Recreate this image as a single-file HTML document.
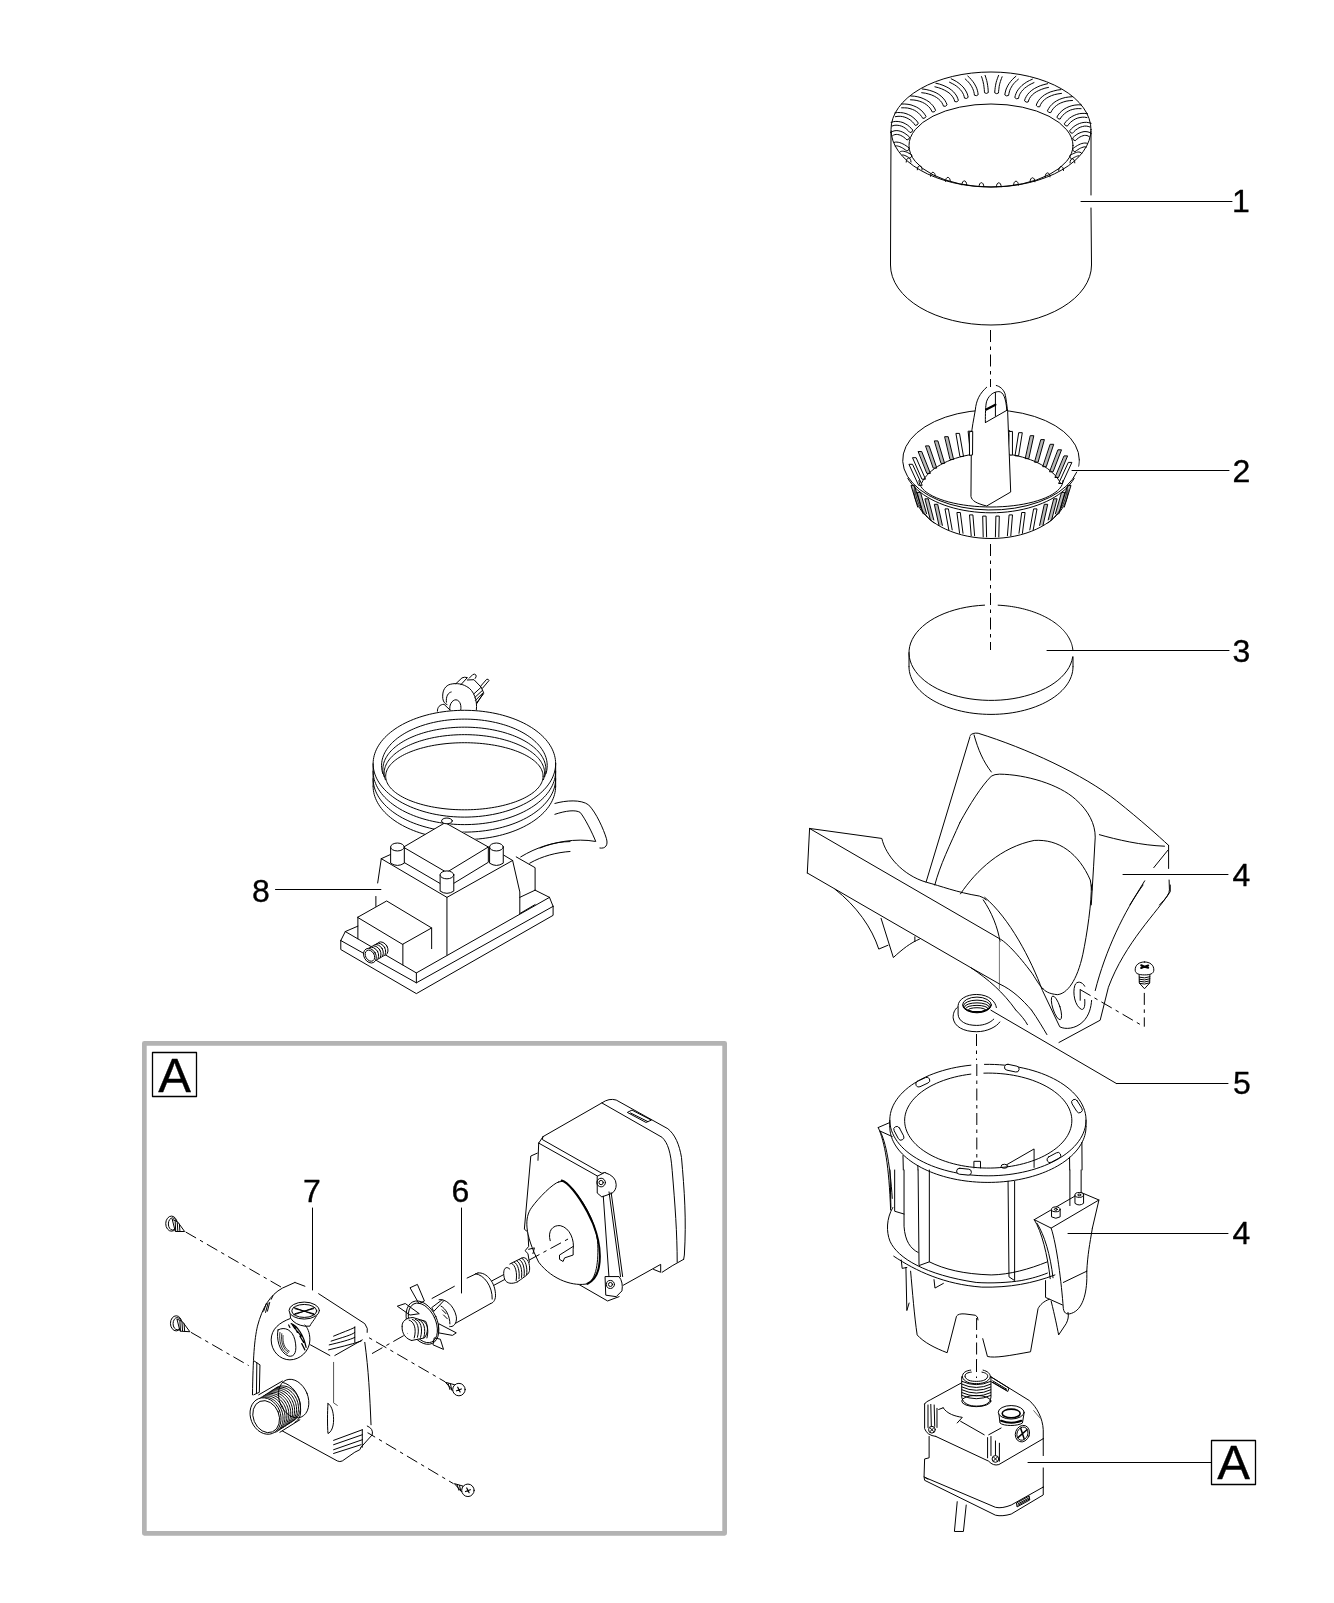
<!DOCTYPE html>
<html><head><meta charset="utf-8"><style>
html,body{margin:0;padding:0;background:#fff;}
svg{display:block;font-family:"Liberation Sans",sans-serif;filter:grayscale(100%);}
svg path,svg line,svg ellipse,svg polyline,svg polygon,svg circle,svg rect{vector-effect:non-scaling-stroke;}
</style></head><body>
<svg width="1334" height="1603" viewBox="0 0 1334 1603" fill="none" stroke="#000" stroke-width="1" stroke-linecap="round" stroke-linejoin="round">
<rect x="0" y="0" width="1334" height="1603" fill="#fff" stroke="none"/>
<rect x="144.35" y="1043.35" width="580.3" height="490" fill="none" stroke="#b3b3b3" stroke-width="4.7" class="ns"/>
<rect x="152.5" y="1052.5" width="44" height="44" fill="none" stroke="#000" stroke-width="1.3"/>
<rect x="1211.5" y="1440.5" width="44" height="44" fill="none" stroke="#000" stroke-width="1.3"/>
<text fill="#000" stroke="#000" stroke-width="0.35" x="1241" y="212" font-size="32" text-anchor="middle">1</text>
<text fill="#000" stroke="#000" stroke-width="0.35" x="1241.5" y="482" font-size="32" text-anchor="middle">2</text>
<text fill="#000" stroke="#000" stroke-width="0.35" x="1241.5" y="661.7" font-size="32" text-anchor="middle">3</text>
<text fill="#000" stroke="#000" stroke-width="0.35" x="1241.5" y="885.7" font-size="32" text-anchor="middle">4</text>
<text fill="#000" stroke="#000" stroke-width="0.35" x="1242" y="1094" font-size="32" text-anchor="middle">5</text>
<text fill="#000" stroke="#000" stroke-width="0.35" x="1241.5" y="1244" font-size="32" text-anchor="middle">4</text>
<text fill="#000" stroke="#000" stroke-width="0.35" x="261" y="902" font-size="32" text-anchor="middle">8</text>
<text fill="#000" stroke="#000" stroke-width="0.35" x="312" y="1202" font-size="32" text-anchor="middle">7</text>
<text fill="#000" stroke="#000" stroke-width="0.35" x="460.5" y="1202" font-size="32" text-anchor="middle">6</text>
<text fill="#000" stroke="#000" stroke-width="0.35" x="174.5" y="1092" font-size="49" text-anchor="middle">A</text>
<text fill="#000" stroke="#000" stroke-width="0.35" x="1233.5" y="1479" font-size="49" text-anchor="middle">A</text>
<line x1="1081" y1="201.5" x2="1232" y2="201.5"/>
<line x1="1072" y1="470.5" x2="1229" y2="470.5"/>
<line x1="1047" y1="650.5" x2="1229" y2="650.5"/>
<line x1="1123" y1="874.5" x2="1228" y2="874.5"/>
<line x1="990.9" y1="1010.2" x2="1116.4" y2="1083.5"/>
<line x1="1116.4" y1="1083.5" x2="1228" y2="1083.5"/>
<line x1="1068" y1="1233.5" x2="1228" y2="1233.5"/>
<line x1="1028" y1="1462.5" x2="1211" y2="1462.5"/>
<line x1="275.5" y1="889.5" x2="391" y2="889.5"/>
<line x1="312.5" y1="1208" x2="312.5" y2="1301"/>
<line x1="461.5" y1="1208" x2="461.5" y2="1293"/>
<ellipse cx="991" cy="129.5" rx="100" ry="57.5"/>
<ellipse cx="991" cy="145.5" rx="82" ry="41.5"/>
<path d="M1091,208 L1091.5,265 A100.5,60 0 0 1 890.5,265 L891,131"/>
<path d="M1091,131 L1091,195"/>
<path d="M1091.4,133.6 L1089.9,132.6 L1088.0,131.9 L1086.0,131.6 L1084.0,131.6 L1081.9,132.1 L1080.0,132.8 L1078.0,133.7 L1076.1,135.0 L1074.3,136.4 L1072.6,138.0 Q1072.8,140.4 1075.2,140.7 L1076.8,139.3 L1078.4,138.0 L1079.9,137.0 L1081.5,136.3 L1083.0,135.7 L1084.4,135.4 L1085.8,135.4 L1087.0,135.5 L1088.1,136.0 L1089.3,136.7"/>
<path d="M1087.3,143.4 L1086.2,143.1 L1084.8,143.0 L1083.4,143.2 L1081.9,143.5 L1080.4,144.0 L1078.9,144.7 L1077.4,145.5 L1075.8,146.5 L1074.2,147.6 L1072.6,148.7 Q1072.6,151.1 1074.9,151.8 L1076.4,150.6 L1077.9,149.7 L1079.2,148.8 L1080.6,148.1 L1081.8,147.6 L1083.0,147.2 L1084.0,146.9 L1084.9,146.8 L1085.6,146.9 L1086.3,147.1"/>
<path d="M1081.8,153.5 L1081.2,152.8 L1080.0,152.2 L1078.8,152.0 L1077.6,152.1 L1076.4,152.4 L1075.2,152.8 L1073.9,153.4 L1072.5,154.0 L1071.1,154.8 L1069.7,155.7 Q1069.4,158.1 1071.7,158.9 L1073.1,158.1 L1074.3,157.4 L1075.5,156.8 L1076.6,156.3 L1077.5,156.0 L1078.2,155.9 L1078.7,155.8 L1079.0,155.9 L1078.9,155.8 L1079.0,156.0"/>
<path d="M1070.0,162.9 C1070.0,157.4 1074.8,157.4 1074.8,162.9"/>
<path d="M1058.7,170.5 C1058.7,165.0 1063.5,165.0 1063.5,170.5"/>
<path d="M1045.2,176.9 C1045.2,171.4 1050.0,171.4 1050.0,176.9"/>
<path d="M1030.1,181.8 C1030.1,176.3 1034.9,176.3 1034.9,181.8"/>
<path d="M1013.6,185.2 C1013.6,179.7 1018.4,179.7 1018.4,185.2"/>
<path d="M996.4,186.8 C996.4,181.3 1001.2,181.3 1001.2,186.8"/>
<path d="M979.0,186.7 C979.0,181.2 983.8,181.2 983.8,186.7"/>
<path d="M961.9,184.9 C961.9,179.4 966.7,179.4 966.7,184.9"/>
<path d="M945.5,181.4 C945.5,175.9 950.3,175.9 950.3,181.4"/>
<path d="M930.5,176.3 C930.5,170.8 935.3,170.8 935.3,176.3"/>
<path d="M917.3,169.8 C917.3,164.3 922.1,164.3 922.1,169.8"/>
<path d="M906.2,162.1 C906.2,156.6 911.0,156.6 911.0,162.1"/>
<path d="M902.1,155.2 L902.3,155.0 L902.3,155.0 L902.6,155.0 L903.2,155.0 L904.0,155.2 L904.9,155.5 L906.0,156.0 L907.2,156.6 L908.5,157.4 L909.9,158.2 Q912.1,157.4 911.9,155.0 L910.4,154.1 L909.0,153.3 L907.6,152.6 L906.3,152.0 L905.1,151.6 L903.8,151.3 L902.6,151.2 L901.4,151.3 L900.2,151.8 L899.5,152.4"/>
<path d="M895.2,146.1 L895.9,145.9 L896.7,145.9 L897.6,146.0 L898.7,146.3 L899.9,146.7 L901.2,147.3 L902.5,148.0 L903.9,148.9 L905.4,149.9 L906.9,151.0 Q909.3,150.4 909.2,148.0 L907.6,146.8 L906.0,145.7 L904.4,144.7 L902.9,143.9 L901.3,143.2 L899.8,142.6 L898.3,142.3 L896.9,142.1 L895.4,142.1 L894.3,142.4"/>
<path d="M892.5,135.8 L893.7,135.0 L894.9,134.6 L896.2,134.4 L897.6,134.5 L899.1,134.8 L900.7,135.4 L902.2,136.2 L903.8,137.2 L905.4,138.5 L907.0,140.0 Q909.3,139.6 909.6,137.2 L907.9,135.6 L906.0,134.2 L904.1,132.9 L902.2,131.9 L900.2,131.2 L898.1,130.7 L896.1,130.6 L894.0,130.9 L892.1,131.6 L890.5,132.5"/>
<path d="M892.2,126.0 L894.1,125.4 L896.0,125.2 L897.9,125.3 L899.7,125.6 L901.6,126.2 L903.4,127.0 L905.2,128.1 L906.8,129.4 L908.4,130.9 L910.0,132.6 Q912.4,132.4 912.8,130.1 L911.1,128.2 L909.3,126.5 L907.3,124.9 L905.2,123.7 L903.0,122.6 L900.6,121.9 L898.2,121.5 L895.8,121.4 L893.4,121.7 L891.1,122.4"/>
<path d="M895.4,116.7 L898.0,116.3 L900.3,116.3 L902.6,116.6 L904.8,117.2 L906.9,118.0 L908.9,119.1 L910.7,120.3 L912.4,121.8 L913.9,123.5 L915.3,125.4 Q917.7,125.4 918.3,123.1 L916.8,121.0 L915.0,119.1 L913.0,117.4 L910.9,115.8 L908.5,114.6 L906.0,113.6 L903.3,112.9 L900.6,112.6 L897.7,112.5 L894.9,112.9"/>
<path d="M901.6,107.8 L904.6,107.8 L907.4,108.0 L910.0,108.6 L912.4,109.4 L914.7,110.4 L916.7,111.7 L918.5,113.1 L920.1,114.7 L921.5,116.4 L922.8,118.4 Q925.2,118.7 926.0,116.4 L924.6,114.2 L923.0,112.1 L921.0,110.2 L918.9,108.5 L916.5,107.1 L913.8,105.9 L911.0,104.9 L908.0,104.3 L904.8,104.0 L901.6,104.0"/>
<path d="M910.5,99.8 L913.9,100.0 L916.9,100.5 L919.8,101.3 L922.4,102.3 L924.7,103.5 L926.7,104.9 L928.5,106.5 L930.0,108.1 L931.2,110.0 L932.3,112.0 Q934.6,112.5 935.6,110.3 L934.5,108.0 L933.0,105.8 L931.2,103.8 L929.1,101.9 L926.6,100.3 L923.9,98.9 L921.0,97.7 L917.8,96.8 L914.3,96.2 L910.7,96.0"/>
<path d="M921.7,92.7 L925.4,93.2 L928.7,94.0 L931.7,95.0 L934.3,96.2 L936.7,97.6 L938.7,99.1 L940.3,100.7 L941.7,102.4 L942.7,104.2 L943.5,106.2 Q945.9,106.9 947.1,104.8 L946.1,102.5 L944.8,100.2 L943.1,98.1 L941.1,96.2 L938.8,94.4 L936.1,92.8 L933.1,91.5 L929.7,90.4 L926.1,89.5 L922.3,89.0"/>
<path d="M934.9,86.8 L938.4,87.7 L941.6,88.8 L944.4,90.1 L946.9,91.5 L949.0,92.9 L950.8,94.5 L952.2,96.2 L953.4,97.9 L954.2,99.6 L954.8,101.6 Q957.1,102.5 958.4,100.5 L957.7,98.3 L956.7,96.0 L955.2,93.9 L953.5,91.8 L951.4,90.0 L948.9,88.2 L946.1,86.7 L943.0,85.3 L939.5,84.1 L935.8,83.2"/>
<path d="M949.5,82.2 L952.3,83.6 L954.7,84.9 L956.8,86.4 L958.7,88.0 L960.3,89.6 L961.6,91.2 L962.6,92.8 L963.5,94.5 L964.1,96.3 L964.5,98.1 Q966.7,99.2 968.2,97.3 L967.7,95.2 L967.0,93.1 L965.9,91.0 L964.6,89.0 L963.1,87.0 L961.2,85.2 L959.1,83.4 L956.7,81.7 L954.0,80.2 L951.2,78.8"/>
<path d="M965.2,78.9 L966.9,80.5 L968.4,82.0 L969.7,83.6 L970.8,85.2 L971.8,86.8 L972.6,88.4 L973.3,90.1 L973.8,91.7 L974.2,93.4 L974.4,95.2 Q976.5,96.4 978.2,94.7 L977.9,92.7 L977.5,90.8 L976.9,88.8 L976.1,86.9 L975.1,85.0 L974.0,83.1 L972.7,81.3 L971.2,79.5 L969.6,77.7 L967.8,76.1"/>
<path d="M981.5,76.6 L982.1,78.2 L982.5,79.8 L983.0,81.4 L983.3,83.0 L983.7,84.6 L983.9,86.2 L984.1,87.9 L984.3,89.5 L984.4,91.1 L984.5,92.7 Q986.4,94.2 988.3,92.6 L988.2,90.9 L988.1,89.1 L987.9,87.4 L987.7,85.7 L987.4,84.0 L987.1,82.2 L986.7,80.5 L986.2,78.8 L985.7,77.1 L985.1,75.4"/>
<path d="M998.6,75.4 L997.9,77.1 L997.3,78.8 L996.7,80.5 L996.2,82.3 L995.8,84.0 L995.5,85.8 L995.2,87.5 L995.0,89.3 L994.8,91.0 L994.7,92.8 Q996.6,94.4 998.5,93.0 L998.6,91.3 L998.8,89.7 L999.0,88.1 L999.2,86.4 L999.5,84.8 L999.9,83.2 L1000.4,81.6 L1000.9,80.0 L1001.5,78.4 L1002.1,76.8"/>
<path d="M1015.9,76.3 L1014.0,77.9 L1012.2,79.7 L1010.7,81.4 L1009.3,83.3 L1008.1,85.1 L1007.1,87.1 L1006.2,89.0 L1005.6,91.0 L1005.1,93.0 L1004.8,94.9 Q1006.5,96.6 1008.6,95.4 L1008.9,93.7 L1009.3,92.0 L1009.8,90.3 L1010.5,88.7 L1011.4,87.1 L1012.4,85.4 L1013.6,83.8 L1015.0,82.3 L1016.6,80.7 L1018.4,79.2"/>
<path d="M1032.4,79.2 L1029.5,80.5 L1026.7,82.0 L1024.2,83.7 L1022.0,85.4 L1020.1,87.3 L1018.5,89.2 L1017.1,91.2 L1016.1,93.3 L1015.3,95.5 L1014.8,97.6 Q1016.3,99.5 1018.5,98.4 L1018.9,96.6 L1019.5,94.8 L1020.4,93.2 L1021.5,91.5 L1022.9,89.9 L1024.5,88.3 L1026.5,86.8 L1028.7,85.3 L1031.2,83.9 L1034.0,82.6"/>
<path d="M1047.6,83.7 L1043.9,84.6 L1040.3,85.7 L1037.2,87.1 L1034.3,88.6 L1031.8,90.3 L1029.6,92.2 L1027.8,94.2 L1026.4,96.3 L1025.2,98.6 L1024.5,100.8 Q1025.9,102.8 1028.1,102.0 L1028.8,100.0 L1029.6,98.3 L1030.8,96.5 L1032.3,94.9 L1034.1,93.3 L1036.3,91.8 L1038.8,90.5 L1041.7,89.3 L1044.9,88.2 L1048.5,87.4"/>
<path d="M1061.0,89.6 L1057.2,90.1 L1053.6,91.0 L1050.2,92.0 L1047.2,93.4 L1044.5,94.9 L1042.2,96.7 L1040.1,98.6 L1038.4,100.8 L1037.1,103.0 L1036.2,105.3 Q1037.3,107.4 1039.7,106.8 L1040.5,104.7 L1041.6,102.9 L1042.9,101.2 L1044.6,99.6 L1046.6,98.1 L1048.9,96.8 L1051.6,95.6 L1054.6,94.6 L1057.9,93.9 L1061.5,93.4"/>
<path d="M1072.3,96.7 L1068.8,97.0 L1065.3,97.5 L1062.1,98.4 L1059.2,99.5 L1056.5,100.9 L1054.1,102.5 L1051.9,104.4 L1050.1,106.4 L1048.6,108.6 L1047.4,110.9 Q1048.4,113.1 1050.8,112.6 L1051.8,110.6 L1053.1,108.8 L1054.6,107.1 L1056.4,105.6 L1058.4,104.2 L1060.7,103.0 L1063.3,102.0 L1066.1,101.2 L1069.2,100.7 L1072.5,100.5"/>
<path d="M1081.2,104.9 L1078.1,104.8 L1074.9,105.1 L1071.9,105.7 L1069.1,106.6 L1066.4,107.8 L1064.0,109.2 L1061.9,110.9 L1059.9,112.8 L1058.2,114.9 L1056.9,117.1 Q1057.7,119.3 1060.1,119.1 L1061.3,117.1 L1062.7,115.4 L1064.4,113.8 L1066.2,112.4 L1068.2,111.2 L1070.4,110.1 L1072.8,109.4 L1075.4,108.8 L1078.2,108.6 L1081.1,108.7"/>
<path d="M1087.6,113.8 L1084.9,113.4 L1082.0,113.4 L1079.3,113.7 L1076.7,114.4 L1074.2,115.4 L1071.8,116.6 L1069.6,118.1 L1067.7,119.8 L1065.9,121.7 L1064.3,123.8 Q1064.9,126.1 1067.3,126.1 L1068.8,124.2 L1070.3,122.5 L1072.0,121.1 L1073.8,119.9 L1075.7,118.8 L1077.8,118.0 L1080.0,117.5 L1082.2,117.2 L1084.6,117.2 L1087.0,117.6"/>
<path d="M1091.1,123.3 L1088.9,122.7 L1086.5,122.3 L1084.1,122.4 L1081.7,122.8 L1079.4,123.5 L1077.2,124.5 L1075.1,125.7 L1073.1,127.2 L1071.3,128.9 L1069.6,130.8 Q1070.0,133.2 1072.4,133.3 L1074.0,131.6 L1075.6,130.1 L1077.3,128.9 L1079.0,127.8 L1080.8,127.0 L1082.6,126.5 L1084.5,126.1 L1086.3,126.1 L1088.1,126.4 L1089.9,127.0"/>
<g transform="translate(390 1250) scale(0.127437)">
<path d="M330,380 L505,285 M605,220 L690,180"/>
<path d="M470,600 L790,420"/>
<path d="M690,180 C760,170 830,260 828,360 C826,400 805,418 790,420"/>
<path d="M670,186 C740,195 805,285 802,385"/>
<path d="M800,242 L940,168 M815,277 L955,202"/>
<path d="M940,150 C900,110 880,170 900,230 C915,265 960,270 1000,250" fill="#fff"/>
<path d="M940,110 L1040,60 C1080,55 1100,110 1095,160 C1090,190 1070,200 1000,250"/>
<path d="M955,105 C985,120 1000,180 990,240 M975,95 C1005,110 1020,170 1012,225 M995,85 C1025,100 1040,160 1032,215 M1015,75 C1045,90 1060,150 1052,205 M1035,65 C1065,80 1080,140 1072,195"/>
<path d="M385,390 C430,380 500,430 520,520 C530,580 490,610 470,600" fill="#fff"/>
<path d="M400,440 C440,460 470,520 470,580 M410,470 L440,500 M420,510 L450,540"/>
<path d="M160,295 L215,270 L270,400 L230,420 Z" fill="#fff"/>
<path d="M60,440 L120,420 L230,500 L160,510 Z" fill="#fff"/>
<path d="M330,450 L410,390 L420,400 L345,480 Z" fill="#fff"/>
<path d="M385,580 L520,650 L490,670 L380,650 Z" fill="#fff"/>
<path d="M340,745 L420,780 L395,700 L350,690 Z" fill="#fff"/>
<ellipse cx="255" cy="570" rx="115" ry="180" transform="rotate(-25 255 570)"/>
<ellipse cx="258" cy="572" rx="100" ry="165" transform="rotate(-25 258 572)"/>
<path d="M95,600 C90,560 130,530 180,530 L280,560 C300,600 300,650 270,690 L170,710" fill="#fff"/>
<path d="M150,550 C190,560 210,620 190,690 M175,545 C215,555 235,615 215,685 M200,545 C240,555 260,615 240,685 M225,548 C265,558 285,618 265,688 M250,552 C290,562 308,620 290,690"/>
<path d="M95,600 C90,660 130,700 170,710"/>
</g>

<g transform="translate(510 1090) scale(0.143513)">
<path d="M230,325 L640,90 Q690,55 740,70 L1100,270 C1150,310 1180,380 1195,470 C1215,700 1230,900 1215,1150 L1210,1180 L1130,1225 L1060,1270 L1050,1215 L790,1360 L760,1440 L680,1470 L480,1355 L130,1200 L125,1140 L105,1120 L130,1090 L125,990 L100,970 L145,460 L190,440 L200,370 Z" fill="#fff" stroke="none"/>
<path d="M230,325 L640,90 Q690,55 740,70 L1100,270 C1150,310 1180,380 1195,470 C1215,700 1230,900 1215,1150 L1210,1180"/>
<path d="M640,90 L1060,330 C1100,370 1120,430 1130,560 C1150,800 1165,1000 1165,1200"/>
<path d="M230,325 L225,345 L640,580 L665,575"/>
<path d="M200,370 L610,600"/><path d="M230,325 L200,370"/>
<path d="M200,370 L195,490"/>
<path d="M190,440 L145,460 L100,970 L125,990 L130,1090 L105,1120 L125,1140 L135,1200"/>
<path d="M480,1355 L680,1470 L760,1440"/>
<path d="M790,1360 L1050,1215 L1050,1270 L1000,1250 M1060,1270 L1130,1225 L1210,1180"/>
<path d="M820,155 L850,140 L985,210 L950,225 Z"/><path d="M840,160 L960,220"/>
<path d="M340,640 C300,650 200,750 150,820 C100,890 100,1000 200,1200 C300,1330 450,1370 540,1350 C600,1320 620,1200 610,1050 C590,900 500,750 400,650 Q370,625 340,640 Z" fill="#fff"/>
<path d="M360,630 C400,640 470,720 540,850 C610,980 640,1120 620,1230 C610,1290 580,1330 540,1350" stroke-width="2"/>
<path d="M280,1050 C260,980 300,940 350,945 C420,960 450,1050 440,1110 L440,1150 L380,1170 L370,1195 L345,1180 L345,1150 L440,1090"/>
<path d="M610,600 L660,575 Q740,600 740,660 Q740,700 710,720 L640,745 L610,720 Z" fill="#fff"/>
<circle cx="635" cy="645" r="30"/><circle cx="635" cy="645" r="15"/>
<path d="M650,740 L690,1310 M690,710 L770,1300 M705,715 L785,1300"/>
<path d="M665,1300 L760,1300 Q790,1340 780,1400 L740,1440 L670,1430 Z" fill="#fff"/>
<circle cx="700" cy="1355" r="28"/><circle cx="700" cy="1355" r="14"/>
<path d="M130,1110 L170,1100 L160,1140"/>
</g>

<g stroke-dasharray="12 4.5 3.5 4.5" stroke-linecap="butt">
<path d="M185.7,1232 L304.9,1300.8"/>
<path d="M354.8,1329.5 L445.1,1381.8"/>
<path d="M190.9,1332.3 L248.7,1365.6"/>
<path d="M364.8,1431 L453.5,1483.7"/>
<path d="M372,1353.6 L408,1333.2"/>
<path d="M528.9,1260.2 L570.3,1237.8"/>
</g>
<g transform="translate(150 1210) scale(0.104942)">
<ellipse cx="205" cy="130" rx="55" ry="72" fill="#fff"/><ellipse cx="215" cy="133" rx="40" ry="58"/>
<path d="M215,90 L265,115 L330,205 L245,205 Z" fill="#fff"/>
<path d="M240,110 L245,200 M260,120 L265,200 M280,135 L285,200"/>
<ellipse cx="250" cy="1080" rx="55" ry="72" fill="#fff"/><ellipse cx="260" cy="1083" rx="40" ry="58"/>
<path d="M260,1040 L310,1065 L380,1160 L290,1155 Z" fill="#fff"/>
<path d="M285,1060 L290,1150 M305,1070 L310,1150 M325,1085 L330,1155"/>
</g>
<g transform="translate(330 1320) scale(0.119940)">
<path d="M965,520 L1040,540 L1030,590 Z" fill="#fff"/><path d="M985,530 L1000,580 M1005,535 L1015,585"/>
<circle cx="1075" cy="580" r="52" fill="#fff"/><path d="M1065,560 L1085,600 M1055,590 L1095,575" stroke-width="1.2"/>
<path d="M1040,1365 L1110,1385 L1100,1430 Z" fill="#fff"/><path d="M1060,1375 L1075,1420 M1080,1380 L1090,1425"/>
<circle cx="1150" cy="1420" r="52" fill="#fff"/><path d="M1140,1400 L1160,1440 M1130,1430 L1170,1415" stroke-width="1.2"/>
</g>

<path d="M1076.68,472.10 L1072.49,479.26 L1066.45,485.98 L1058.69,492.11 L1049.39,497.51 L1038.77,502.05 L1027.06,505.64 L1014.52,508.19 L1001.46,509.65 L988.15,509.97 L974.91,509.16 L962.03,507.23 L949.82,504.23 L938.54,500.22 L928.45,495.29 L919.79,489.57 L912.75,483.16 L907.49,476.24 L904.12,468.94 L902.74,461.44 L903.36,453.91 L905.97,446.51 L910.52,439.42 L916.90,432.80 L924.97,426.80 L934.54,421.56 L945.39,417.19 L957.28,413.79 L969.94,411.44 L983.07,410.20 L996.39,410.09 L1009.58,411.12 L1022.36,413.26 L1034.41,416.46 L1045.48,420.65 L1055.32,425.74 L1063.68,431.61 L1070.40,438.12 L1075.31,445.13 L1078.30,452.48 L1079.30,460.00"/>
<path d="M1079.30,460.00 L1079.30,460.15 L1079.30,460.31 L1079.30,460.46 L1079.29,460.61 L1079.29,460.76 L1079.29,460.92 L1079.28,461.07 L1079.27,461.22 L1079.27,461.37 L1079.26,461.53 L1079.25,461.68 L1079.24,461.83 L1079.23,461.98 L1079.22,462.14 L1079.21,462.29 L1079.19,462.44 L1079.18,462.60 L1079.17,462.75 L1079.15,462.90 L1079.14,463.05 L1079.12,463.20 L1079.10,463.36 L1079.08,463.51 L1079.06,463.66 L1079.04,463.81 L1079.02,463.97 L1079.00,464.12 L1078.98,464.27 L1078.95,464.42 L1078.93,464.58 L1078.90,464.73 L1078.88,464.88 L1078.85,465.03 L1078.82,465.18 L1078.80,465.33 L1078.77,465.49 L1078.74,465.64 L1078.71,465.79 L1078.67,465.94 L1078.64,466.09"/>
<path d="M1074.22,478.25 L1072.36,481.21 L1070.17,484.09 L1067.68,486.89 L1064.88,489.59 L1061.79,492.19 L1058.42,494.67 L1054.78,497.03 L1050.90,499.25 L1046.77,501.33 L1042.43,503.25 L1037.88,505.02 L1033.15,506.62 L1028.26,508.04 L1023.21,509.29 L1018.04,510.35 L1012.76,511.23 L1007.40,511.91 L1001.97,512.41 L996.49,512.70 L991.00,512.80 L985.51,512.70 L980.03,512.41 L974.60,511.91 L969.24,511.23 L963.96,510.35 L958.79,509.29 L953.74,508.04 L948.85,506.62 L944.12,505.02 L939.57,503.25 L935.23,501.33 L931.10,499.25 L927.22,497.03 L923.58,494.67 L920.21,492.19 L917.12,489.59 L914.32,486.89 L911.83,484.09 L909.64,481.21 L907.78,478.25"/>
<path d="M914.5,487 C916,505 925,516 934,523"/>
<path d="M1068.00,490.00 L1067.76,493.81 L1067.05,497.59 L1065.87,501.32 L1064.23,504.99 L1062.14,508.56 L1059.61,512.02 L1056.65,515.34 L1053.29,518.51 L1049.55,521.50 L1045.45,524.29 L1041.01,526.88 L1036.26,529.24 L1031.23,531.35 L1025.96,533.21 L1020.47,534.81 L1014.79,536.13 L1008.98,537.16 L1003.05,537.90 L997.04,538.35 L991.00,538.50 L984.96,538.35 L978.95,537.90 L973.02,537.16 L967.21,536.13 L961.53,534.81 L956.04,533.21 L950.77,531.35 L945.74,529.24 L940.99,526.88 L936.55,524.29 L932.45,521.50 L928.71,518.51 L925.35,515.34 L922.39,512.02 L919.86,508.56 L917.77,504.99 L916.13,501.32 L914.95,497.59 L914.24,493.81 L914.00,490.00"/>
<path d="M1067.5,487 C1066,505 1057,516 1048,523"/>
<path d="M1063.00,480.50 L1062.78,482.58 L1062.11,484.65 L1061.01,486.69 L1059.48,488.69 L1057.52,490.64 L1055.15,492.53 L1052.39,494.35 L1049.25,496.08 L1045.75,497.71 L1041.91,499.24 L1037.76,500.65 L1033.32,501.94 L1028.62,503.09 L1023.69,504.11 L1018.55,504.98 L1013.25,505.70 L1007.81,506.27 L1002.26,506.67 L996.65,506.92 L991.00,507.00 L985.35,506.92 L979.74,506.67 L974.19,506.27 L968.75,505.70 L963.45,504.98 L958.31,504.11 L953.38,503.09 L948.68,501.94 L944.24,500.65 L940.09,499.24 L936.25,497.71 L932.75,496.08 L929.61,494.35 L926.85,492.53 L924.48,490.64 L922.52,488.69 L920.99,486.69 L919.89,484.65 L919.22,482.58 L919.00,480.50"/>
<path d="M921.79,482.70 L923.21,480.18 L924.92,477.72 L926.90,475.32 L929.15,473.01 L931.66,470.78 L934.42,468.65 L937.41,466.62 L940.62,464.71 L944.05,462.92 L947.67,461.26 L951.47,459.73 L955.44,458.35 L959.55,457.12 L963.80,456.04 L968.15,455.12 L972.61,454.36 L977.14,453.77 L981.73,453.34 L986.35,453.09 L991.00,453.00 L995.65,453.09 L1000.27,453.34 L1004.86,453.77 L1009.39,454.36 L1013.85,455.12 L1018.20,456.04 L1022.45,457.12 L1026.56,458.35 L1030.53,459.73 L1034.33,461.26 L1037.95,462.92 L1041.38,464.71 L1044.59,466.62 L1047.58,468.65 L1050.34,470.78 L1052.85,473.01 L1055.10,475.32 L1057.08,477.72 L1058.79,480.18 L1060.21,482.70"/>
<path d="M909.3,464.3 L912.5,464.3 L922.2,485.3 L919.0,485.3 Z" fill="none" fill-opacity="0.45"/>
<path d="M912.9,457.7 L916.1,457.7 L925.5,479.2 L922.3,479.2 Z" fill="none" fill-opacity="0.45"/>
<path d="M918.5,451.5 L921.7,451.5 L930.4,473.4 L927.2,473.4 Z" fill="#666" fill-opacity="0.45"/>
<path d="M925.9,445.9 L929.1,445.9 L936.8,468.1 L933.6,468.1 Z" fill="#666" fill-opacity="0.45"/>
<path d="M934.7,440.9 L937.9,440.9 L944.6,463.4 L941.4,463.4 Z" fill="#666" fill-opacity="0.45"/>
<path d="M945.0,436.7 L948.2,436.7 L953.6,459.5 L950.4,459.5 Z" fill="#666" fill-opacity="0.45"/>
<path d="M956.3,433.4 L959.5,433.4 L963.5,456.5 L960.3,456.5 Z" fill="none" fill-opacity="0.45"/>
<path d="M968.5,431.2 L971.7,431.2 L974.2,454.4 L971.0,454.4 Z" fill="none" fill-opacity="0.45"/>
<path d="M981.1,429.9 L984.3,429.9 L985.3,453.2 L982.1,453.2 Z" fill="none" fill-opacity="0.45"/>
<path d="M994.0,429.8 L997.2,429.8 L996.6,453.1 L993.4,453.1 Z" fill="none" fill-opacity="0.45"/>
<path d="M1006.7,430.7 L1009.9,430.7 L1007.8,453.9 L1004.6,453.9 Z" fill="none" fill-opacity="0.45"/>
<path d="M1019.1,432.7 L1022.3,432.7 L1018.6,455.8 L1015.4,455.8 Z" fill="none" fill-opacity="0.45"/>
<path d="M1030.6,435.7 L1033.8,435.7 L1028.8,458.6 L1025.6,458.6 Z" fill="#666" fill-opacity="0.45"/>
<path d="M1041.2,439.6 L1044.4,439.6 L1038.1,462.2 L1034.9,462.2 Z" fill="#666" fill-opacity="0.45"/>
<path d="M1050.5,444.3 L1053.7,444.3 L1046.3,466.7 L1043.1,466.7 Z" fill="#666" fill-opacity="0.45"/>
<path d="M1058.3,449.8 L1061.5,449.8 L1053.1,471.8 L1049.9,471.8 Z" fill="#666" fill-opacity="0.45"/>
<path d="M1064.4,455.9 L1067.6,455.9 L1058.5,477.5 L1055.3,477.5 Z" fill="#666" fill-opacity="0.45"/>
<path d="M1068.7,462.4 L1071.9,462.4 L1062.2,483.5 L1059.0,483.5 Z" fill="none" fill-opacity="0.45"/>
<path d="M1060.9,507.1 L1067.6,485.4 L1071.0,485.4 L1064.3,507.1" fill="#666" fill-opacity="0.45"/>
<path d="M1055.4,513.8 L1061.5,492.4 L1064.9,492.4 L1058.8,513.8" fill="#666" fill-opacity="0.45"/>
<path d="M1048.2,520.0 L1053.7,498.8 L1057.1,498.8 L1051.6,520.0" fill="#666" fill-opacity="0.45"/>
<path d="M1039.6,525.4 L1044.3,504.3 L1047.7,504.3 L1043.0,525.4" fill="#666" fill-opacity="0.45"/>
<path d="M1029.8,529.9 L1033.6,508.9 L1037.0,508.9 L1033.2,529.9" fill="none" fill-opacity="0.45"/>
<path d="M1019.0,533.3 L1021.7,512.5 L1025.1,512.5 L1022.4,533.3" fill="none" fill-opacity="0.45"/>
<path d="M1007.4,535.7 L1009.1,514.9 L1012.5,514.9 L1010.8,535.7" fill="none" fill-opacity="0.45"/>
<path d="M995.4,536.9 L995.9,516.1 L999.3,516.1 L998.8,536.9" fill="none" fill-opacity="0.45"/>
<path d="M983.2,536.9 L982.7,516.1 L986.1,516.1 L986.6,536.9" fill="none" fill-opacity="0.45"/>
<path d="M971.2,535.7 L969.5,514.9 L972.9,514.9 L974.6,535.7" fill="none" fill-opacity="0.45"/>
<path d="M959.6,533.3 L956.9,512.5 L960.3,512.5 L963.0,533.3" fill="none" fill-opacity="0.45"/>
<path d="M948.8,529.9 L945.0,508.9 L948.4,508.9 L952.2,529.9" fill="none" fill-opacity="0.45"/>
<path d="M939.0,525.4 L934.3,504.3 L937.7,504.3 L942.4,525.4" fill="#666" fill-opacity="0.45"/>
<path d="M930.4,520.0 L924.9,498.8 L928.3,498.8 L933.8,520.0" fill="#666" fill-opacity="0.45"/>
<path d="M923.2,513.8 L917.1,492.4 L920.5,492.4 L926.6,513.8" fill="#666" fill-opacity="0.45"/>
<path d="M917.7,507.1 L911.0,485.4 L914.4,485.4 L921.1,507.1" fill="#666" fill-opacity="0.45"/>
<g transform="translate(950 375) scale(0.087336)"><path d="M300,300 C320,220 380,170 460,150 C560,140 620,180 640,240 L660,420 L695,1340 L420,1500 C300,1470 250,1440 240,1390 L245,700 C250,600 270,520 290,400 Z" fill="#fff" stroke="none"/><path d="M420,140 C340,210 300,290 290,400 C270,520 250,600 245,700 L240,1390 C250,1440 300,1470 420,1500 L695,1340 L660,420 C650,330 640,260 630,215 C610,160 570,130 530,120"/><path d="M405,540 C405,450 405,350 420,300 C450,220 510,190 560,190 C610,195 640,260 650,400"/><path d="M405,545 L650,405"/><path d="M520,200 L520,470"/><path d="M415,395 L520,340" stroke-width="2.2"/><path d="M225,650 L260,645 L258,915 L228,920 Z" fill="#fff"/><path d="M680,648 L715,645 L715,915 L690,918" fill="#fff"/></g>
<path d="M1072.69,656.86 L1071.91,660.44 L1070.67,663.98 L1068.98,667.46 L1066.83,670.85 L1064.25,674.14 L1061.25,677.30 L1057.85,680.33 L1054.06,683.19 L1049.91,685.88 L1045.42,688.38 L1040.62,690.67 L1035.54,692.75 L1030.20,694.60 L1024.64,696.20 L1018.88,697.56 L1012.96,698.66 L1006.92,699.49 L1000.78,700.06 L994.59,700.35 L988.38,700.38 L982.18,700.12 L976.03,699.60 L969.97,698.81 L964.03,697.75 L958.25,696.43 L952.65,694.86 L947.27,693.05 L942.15,691.01 L937.30,688.75 L932.76,686.28 L928.56,683.62 L924.72,680.78 L921.25,677.78 L918.19,674.64 L915.54,671.37 L913.33,667.99 L911.56,664.53 L910.25,661.00 L909.40,657.42 L909.02,653.81 L909.11,650.20 L909.67,646.60 L910.70,643.03 L912.19,639.53 L914.13,636.09 L916.51,632.76 L919.32,629.53 L922.54,626.44 L926.16,623.50 L930.14,620.73 L934.48,618.14 L939.14,615.75 L944.09,613.57 L949.32,611.62 L954.79,609.90 L960.46,608.43 L966.31,607.21 L972.30,606.26 L978.40,605.57 L984.57,605.15"/>
<path d="M998.15,605.18 L1000.09,605.29 L1002.03,605.43 L1003.97,605.60 L1005.90,605.79 L1007.82,606.01 L1009.72,606.26 L1011.62,606.53 L1013.51,606.83 L1015.38,607.16 L1017.25,607.51 L1019.09,607.89 L1020.92,608.29 L1022.73,608.72 L1024.53,609.17 L1026.30,609.65 L1028.06,610.15 L1029.79,610.67 L1031.50,611.23 L1033.19,611.80 L1034.86,612.40 L1036.50,613.02 L1038.11,613.66 L1039.70,614.32 L1041.26,615.01 L1042.79,615.72 L1044.29,616.45 L1045.76,617.20 L1047.20,617.97 L1048.61,618.76 L1049.99,619.56 L1051.33,620.39 L1052.64,621.24 L1053.91,622.10 L1055.14,622.98 L1056.34,623.88 L1057.51,624.80 L1058.63,625.73 L1059.72,626.67 L1060.77,627.64 L1061.77,628.61 L1062.74,629.60 L1063.67,630.60 L1064.55,631.62 L1065.40,632.64 L1066.20,633.68 L1066.96,634.73 L1067.67,635.79 L1068.34,636.86 L1068.97,637.93 L1069.56,639.02 L1070.09,640.11 L1070.59,641.21 L1071.04,642.32 L1071.44,643.44 L1071.80,644.55 L1072.11,645.68 L1072.37,646.80 L1072.59,647.93 L1072.76,649.07 L1072.89,650.20"/>
<path d="M1073.00,666.70 L1072.89,669.20 L1072.55,671.69 L1071.99,674.16 L1071.21,676.62 L1070.21,679.05 L1068.99,681.44 L1067.55,683.79 L1065.91,686.10 L1064.06,688.36 L1062.01,690.55 L1059.77,692.68 L1057.34,694.74 L1054.73,696.72 L1051.94,698.62 L1048.98,700.43 L1045.87,702.15 L1042.60,703.77 L1039.20,705.29 L1035.66,706.70 L1032.00,708.01 L1028.23,709.20 L1024.35,710.28 L1020.39,711.23 L1016.34,712.07 L1012.22,712.77 L1008.05,713.36 L1003.83,713.81 L999.57,714.14 L995.29,714.33 L991.00,714.40 L986.71,714.33 L982.43,714.14 L978.17,713.81 L973.95,713.36 L969.78,712.77 L965.66,712.07 L961.61,711.23 L957.65,710.28 L953.77,709.20 L950.00,708.01 L946.34,706.70 L942.80,705.29 L939.40,703.77 L936.13,702.15 L933.02,700.43 L930.06,698.62 L927.27,696.72 L924.66,694.74 L922.23,692.68 L919.99,690.55 L917.94,688.36 L916.09,686.10 L914.45,683.79 L913.01,681.44 L911.79,679.05 L910.79,676.62 L910.01,674.16 L909.45,671.69 L909.11,669.20 L909.00,666.70"/>
<path d="M909,652.7 L909,666.7"/><path d="M1073,657 L1073,666.7"/>
<g transform="translate(795 820) scale(0.153681)">
<path d="M95,55 L565,120 C590,230 700,360 855,405 C950,430 1050,470 1200,495 Q1225,502 1245,520"/>
<path d="M95,55 L80,345"/>
<path d="M260,450 C400,560 500,700 545,840 L605,815"/>
<path d="M560,640 L640,895 C700,840 750,800 810,775"/>
<path d="M780,760 L780,790"/>
<path d="M1225,520 C1280,600 1320,700 1334,790"/>
</g>
<path d="M969.9,737 L926.1,882"/>
<path d="M960,822.3 C950,845 940,865 934.8,885"/>
<g transform="translate(960 725) scale(0.164908)">
<path d="M60,65 Q75,45 110,50 C400,140 750,300 950,460 C1100,580 1200,670 1265,730"/>
<path d="M85,60 C110,150 140,220 190,285"/>
<path d="M0,590 C60,480 130,370 190,310 Q210,298 240,298 C400,300 600,360 700,450 C780,520 820,600 820,680 L810,860 L796,1091"/>
<path d="M3,1024 C100,880 250,740 450,700 C600,690 720,780 790,940 L800,1000"/>
<path d="M845,665 C950,695 1100,730 1240,735"/>
<path d="M1265,730 L1265,870"/>
<path d="M1268,940 L1270,1000 Q1272,1030 1210,1091"/>
<path d="M1260,760 L1175,865"/>
<path d="M1120,945 L1030,1091"/>
</g>
<path d="M809.6,828.5 L999.2,938.5 C1006,941.9 1017.7,954.1 1032.3,973.6 C1037.2,981.4 1040.1,986.2 1043.1,989.2"/>
<path d="M999.4,941.5 L999.4,988.8" stroke="#777"/>
<path d="M807.3,873 L970.9,967.7 L999.2,983.8 C1012.8,990.1 1022.6,999.9 1031.4,1010"/>
<path d="M970.9,967.7 C988.5,979.4 1003.1,992.1 1015.8,1010"/>
<g transform="translate(960 885) scale(0.164908)">
<path d="M796,0 C800,100 770,300 745,420 C710,580 650,660 590,665 C540,660 515,645 500,625"/>
<path d="M150,75 C300,200 430,450 500,640 L605,860 C640,878 700,872 745,830 C785,790 795,740 798,700"/>
<path d="M1110,0 C1000,150 880,400 820,640"/>
<path d="M1275,0 L1275,40 C1200,160 1000,350 900,620 L850,820 L600,955"/>
<ellipse cx="585" cy="745" rx="22" ry="75" transform="rotate(-18 585 745)"/>


<path d="M338,758 C370,790 395,820 409,847"/>
<path d="M433,758 C470,810 505,870 527,907"/>
</g>

<g transform="translate(940 990) scale(0.052466)">
<path d="M1075,335 C1060,230 950,90 700,85 C500,85 350,180 345,300 L345,460 C350,600 500,675 700,675 C850,675 960,620 1025,555"/>
<path d="M335,325 C270,380 250,450 250,530 C270,700 450,795 700,795 C900,795 1080,700 1140,610"/>
<ellipse cx="705" cy="285" rx="275" ry="150"/>
<ellipse cx="705" cy="305" rx="258" ry="112"/>
<ellipse cx="705" cy="330" rx="238" ry="85"/>
<ellipse cx="705" cy="355" rx="212" ry="62"/>
<ellipse cx="705" cy="380" rx="165" ry="42"/>
</g>
<g transform="translate(1060 950) scale(0.082440)">
<path d="M1025,145 C1090,145 1140,180 1138,245 C1135,290 1090,302 1025,302 C960,302 915,290 912,245 C910,180 960,145 1025,145 Z" fill="#fff"/>
<path d="M985,185 Q1025,205 1070,215 M985,218 Q1025,200 1070,188" stroke-width="2"/>
<path d="M960,302 L962,400 L1025,470 L1088,400 L1090,302"/>
<path d="M962,330 Q1025,350 1090,325 M962,355 Q1025,375 1090,350 M962,380 Q1025,400 1088,375 M965,405 Q1025,425 1085,400"/>
<path d="M245,480 L245,610"/>
<path d="M300,440 C270,380 200,370 180,430 C150,520 180,680 260,720 C300,730 305,660 300,600"/>
</g>
<g stroke-dasharray="12 4.5 3.5 4.5" stroke-linecap="butt">
<path d="M976.5,1034 L976.5,1060"/>
<path d="M1144.3,992.9 L1144.3,1026.7"/>
<path d="M1080.2,989.6 L1140.4,1024.6"/>
</g>

<g transform="translate(870 1050) scale(0.164908)">
<path d="M694.2,87.2 L724.7,87.0 L755.1,87.8 L785.5,89.4 L815.6,91.9 L845.5,95.2 L875.0,99.5 L904.1,104.5 L932.7,110.4 L960.8,117.2 L988.2,124.7 L1014.9,133.1 L1040.8,142.2 L1065.9,152.0 L1090.0,162.6 L1113.1,173.8 L1135.2,185.7 L1156.2,198.2 L1176.1,211.4 L1194.7,225.1 L1212.1,239.3 L1228.2,254.0 L1242.9,269.1 L1256.3,284.7 L1268.2,300.6 L1278.7,316.8 L1287.7,333.3 L1295.2,350.1 L1301.2,367.1 L1305.6,384.2 L1308.6,401.4 L1309.9,418.7 L1309.7,436.0 L1307.9,453.3 L1304.6,470.5 L1299.7,487.6 L1293.3,504.5 L1285.4,521.2 L1276.0,537.6 L1265.1,553.8 L1252.8,569.6 L1239.0,585.1 L1223.9,600.1 L1207.5,614.7 L1189.8,628.7 L1170.8,642.3 L1150.6,655.2 L1129.3,667.6 L1106.9,679.3 L1083.5,690.4 L1059.1,700.7 L1033.8,710.4 L1007.7,719.3 L980.8,727.4 L953.2,734.7 L925.0,741.2 L896.2,746.9 L867.0,751.8 L837.4,755.8 L807.4,758.9 L777.2,761.1 L746.8,762.5 L716.4,763.0 L685.9,762.6 L655.6,761.3 L625.3,759.1 L595.4,756.1 L565.7,752.2 L536.4,747.4 L507.6,741.8 L479.3,735.4 L451.7,728.1 L424.7,720.0 L398.5,711.2 L373.2,701.6 L348.7,691.3 L325.2,680.3 L302.7,668.7 L281.3,656.4 L261.0,643.5 L241.9,630.0 L224.1,616.0 L207.5,601.4 L192.3,586.5 L178.4,571.0 L166.0,555.3 L154.9,539.1 L145.4,522.7 L137.3,506.0 L130.8,489.1 L125.8,472.0 L122.3,454.9 L120.4,437.6 L120.1,420.3 L121.3,403.0 L124.0,385.8 L128.3,368.6 L134.2,351.7 L141.5,334.9 L150.4,318.3 L160.8,302.0 L172.6,286.1 L185.8,270.5 L200.4,255.3 L216.4,240.6 L233.6,226.3 L252.2,212.6 L271.9,199.4 L292.8,186.8 L314.8,174.9 L337.9,163.6 L361.9,152.9 L386.9,143.0 L412.7,133.9 L439.3,125.5 L466.7,117.8 L494.7,111.0 L523.3,105.0 L552.3,99.9 L581.8,95.6 L611.7,92.1"/>
<path d="M690.5,140.4 L716.3,140.0 L742.2,140.4 L768.0,141.5 L793.7,143.3 L819.2,145.9 L844.4,149.2 L869.2,153.3 L893.7,158.1 L917.7,163.5 L941.2,169.7 L964.2,176.5 L986.4,184.0 L1008.0,192.2 L1028.8,200.9 L1048.8,210.2 L1067.9,220.1 L1086.1,230.6 L1103.4,241.5 L1119.6,253.0 L1134.8,264.9 L1148.9,277.2 L1161.9,289.9 L1173.8,303.0 L1184.4,316.4 L1193.8,330.1 L1202.0,344.0 L1208.9,358.2 L1214.5,372.6 L1218.8,387.0 L1221.9,401.6 L1223.6,416.3 L1224.0,431.0 L1223.0,445.7 L1220.8,460.4 L1217.2,474.9 L1212.4,489.4 L1206.2,503.6 L1198.8,517.7 L1190.1,531.6 L1180.2,545.1 L1169.0,558.4 L1156.7,571.3 L1143.3,583.9 L1128.7,596.1 L1113.1,607.8 L1096.4,619.0 L1078.8,629.8 L1060.2,640.0 L1040.7,649.7 L1020.4,658.8 L999.2,667.3 L977.4,675.1 L954.8,682.3 L931.7,688.9 L908.0,694.8 L883.7,700.0 L859.1,704.5 L834.1,708.2 L808.7,711.2 L783.2,713.5 L757.4,715.1 L731.6,715.9 L705.7,715.9 L679.9,715.2 L654.1,713.8 L628.5,711.6 L603.2,708.6 L578.1,705.0 L553.4,700.6 L529.1,695.5 L505.3,689.7 L482.1,683.2 L459.5,676.1 L437.5,668.3 L416.3,659.9 L395.9,650.9 L376.3,641.3 L357.6,631.1 L339.8,620.4 L323.0,609.2 L307.2,597.6 L292.5,585.5 L278.9,573.0 L266.5,560.1 L255.2,546.9 L245.1,533.3 L236.3,519.5 L228.7,505.4 L222.4,491.2 L217.3,476.8 L213.6,462.2 L211.2,447.6 L210.1,432.9 L210.3,418.2 L211.8,403.5 L214.7,388.9 L218.9,374.4 L224.3,360.0 L231.1,345.8 L239.1,331.9 L248.3,318.1 L258.8,304.7 L270.5,291.6 L283.3,278.8 L297.3,266.4 L312.4,254.5 L328.5,243.0 L345.6,232.0 L363.7,221.4 L382.7,211.5 L402.6,202.1 L423.3,193.2 L444.8,185.0 L467.0,177.5 L489.8,170.5 L513.2,164.3 L537.2,158.7 L561.6,153.9 L586.4,149.7 L611.6,146.3"/>
<path d="M1310.0,465.0 L1309.5,478.3 L1308.2,491.5 L1305.9,504.7 L1302.7,517.9 L1298.6,530.9 L1293.6,543.9 L1287.7,556.7 L1280.9,569.4 L1273.2,582.0 L1264.7,594.3 L1255.3,606.5 L1245.1,618.4 L1234.1,630.2 L1222.3,641.6 L1209.7,652.8 L1196.4,663.7 L1182.3,674.3 L1167.4,684.5 L1151.9,694.4 L1135.7,704.0 L1118.9,713.2 L1101.4,722.0 L1083.4,730.4 L1064.7,738.4 L1045.6,746.0 L1025.9,753.2 L1005.7,759.9 L985.1,766.2 L964.1,772.0 L942.7,777.3 L920.9,782.1 L898.9,786.5 L876.5,790.3 L853.9,793.7 L831.1,796.5 L808.1,798.8 L784.9,800.7 L761.7,802.0 L738.4,802.7 L715.0,803.0 L691.6,802.7 L668.3,802.0 L645.1,800.7 L621.9,798.8 L598.9,796.5 L576.1,793.7 L553.5,790.3 L531.1,786.5 L509.1,782.1 L487.3,777.3 L465.9,772.0 L444.9,766.2 L424.3,759.9 L404.1,753.2 L384.4,746.0 L365.3,738.4 L346.6,730.4 L328.6,722.0 L311.1,713.2 L294.3,704.0 L278.1,694.4 L262.6,684.5 L247.7,674.3 L233.6,663.7 L220.3,652.8 L207.7,641.6 L195.9,630.2 L184.9,618.4 L174.7,606.5 L165.3,594.3 L156.8,582.0 L149.1,569.4 L142.3,556.7 L136.4,543.9 L131.4,530.9 L127.3,517.9 L124.1,504.7 L121.8,491.5 L120.5,478.3 L120.0,465.0"/>
<path d="M120,425 L120,465"/><path d="M1310,425 L1310,465"/>
<rect x="275" y="177" width="90" height="36" rx="18" transform="rotate(-25 320 195)" fill="#fff"/>
<rect x="815" y="92" width="90" height="36" rx="18" transform="rotate(12 860 110)" fill="#fff"/>
<rect x="1210" y="322" width="90" height="36" rx="18" transform="rotate(58 1255 340)" fill="#fff"/>
<rect x="130" y="487" width="90" height="36" rx="18" transform="rotate(62 175 505)" fill="#fff"/>
<rect x="525" y="720" width="90" height="36" rx="18" transform="rotate(6 570 738)" fill="#fff"/>
<rect x="1070" y="634" width="90" height="36" rx="18" transform="rotate(-28 1115 652)" fill="#fff"/>
<path d="M200,640 L202,727"/>
<path d="M290,700 L291,727"/>
<path d="M1210,650 L1211,727"/>
<path d="M1285,560 L1286,727"/>
<path d="M50,470 L120,440"/><path d="M50,470 C90,560 115,700 125,970"/><path d="M62,492 C98,565 122,700 135,900"/><path d="M62,492 L135,525"/>
<path d="M630,715 L630,675 L670,675 L670,715"/><path d="M830,695 L995,600 L995,712"/><ellipse cx="815" cy="705" rx="20" ry="12"/>
</g>
<g transform="translate(860 1170) scale(0.187406)">
<path d="M160,0 L165,200"/><path d="M185,0 L185,220 L235,235"/><path d="M235,0 L235,300 C240,380 270,420 310,440"/>
<path d="M310,0 L315,510 L370,490 L370,0"/>
<path d="M790,60 L795,570 L825,590 L825,60"/>
<path d="M175,200 C140,260 140,330 160,380 C200,470 350,560 620,600 C700,606 800,600 860,590 C920,578 960,566 1000,550"/>
<path d="M180,460 C300,540 450,610 650,625 C800,628 920,605 1040,560"/>
<path d="M370,490 C450,530 550,555 700,560 C800,558 900,530 1000,490"/>
<path d="M220,480 L225,525 L250,520"/><path d="M245,520 L250,750 L262,710"/><path d="M395,585 L400,630 L445,605"/>
<path d="M270,540 C280,650 290,780 305,880 C340,920 400,950 465,975 L515,780 Q525,765 560,768 L615,775 Q630,780 630,800"/>
<path d="M655,900 L680,995 C720,1005 800,990 910,970 L950,740 C960,720 980,700 1010,690"/>
<path d="M930,265 L1180,120 L1275,160 L1240,310"/><path d="M930,265 C970,330 1000,450 1015,580"/><path d="M945,285 C985,350 1015,450 1030,575"/><path d="M930,265 L1020,310 L1275,160"/>
<path d="M1020,310 C1050,400 1075,600 1085,740 C1090,770 1110,775 1140,760 C1190,735 1215,650 1210,540"/><path d="M1085,600 L1210,540"/><path d="M1240,310 C1225,400 1215,450 1210,540"/>
<path d="M1180,0 L1180,120"/><path d="M1120,0 L1120,190"/>
<path d="M1022,212 L1022,250 Q1045,265 1068,250 L1068,212"/><ellipse cx="1045" cy="210" rx="23" ry="13" fill="#fff"/><ellipse cx="1045" cy="210" rx="8" ry="5"/>
<path d="M1147,135 L1147,178 Q1170,195 1193,178 L1193,135"/><ellipse cx="1170" cy="133" rx="23" ry="13" fill="#fff"/><ellipse cx="1170" cy="133" rx="8" ry="5"/>
<path d="M990,590 L990,680 L1080,720"/><path d="M1020,700 C1040,780 1050,830 1060,880 L1100,820 C1110,800 1115,780 1110,760"/>
</g>
<g stroke-dasharray="12 4.5 3.5 4.5" stroke-linecap="butt"><path d="M976.8,1064 L976.8,1160"/><path d="M976.6,1318 L976.6,1360"/></g>
<g transform="translate(910 1360) scale(0.112444)">
<path d="M130,390 Q140,370 180,355 L455,205"/>
<path d="M720,150 L1060,360 C1130,420 1180,520 1185,620 L1185,700"/>
<path d="M130,390 L130,610 Q150,670 230,680"/>
<path d="M230,680 L700,900 Q740,945 790,930 L1185,700"/>
<path d="M1185,700 L1185,850"/><path d="M1185,960 L1185,1130"/>
<path d="M170,680 L170,870 L130,880 L125,1040 L160,1060"/>
<path d="M135,1045 L760,1310 C800,1320 850,1310 900,1290 L1185,1130"/>
<path d="M125,1040 L130,1070 L760,1380 C800,1390 850,1385 900,1370 L1185,1200 L1185,1130"/>
<path d="M420,1260 L395,1525 L475,1525 L500,1290"/>
<path d="M950,1270 L1060,1210 L1065,1245 L955,1305 Z"/>
<path d="M960,1280 L1055,1228 M960,1292 L1058,1238"/>
<path d="M460,150 L460,330 C470,390 530,410 590,410 C660,410 715,390 720,330 L720,150"/>
<path d="M465,150 C465,110 500,95 540,90 M650,90 C690,100 715,120 715,150"/>
<path d="M465,150 C480,200 540,210 590,210 C640,210 700,200 715,150"/>
<path d="M490,150 C480,120 520,110 545,108 M640,108 C680,115 695,130 690,150 C680,180 640,190 590,190 C540,190 500,180 490,150"/>
<path d="M462,190 Q590,250 718,190 M462,215 Q590,275 718,215 M462,240 Q590,300 718,240 M462,265 Q590,325 718,265 M462,290 Q590,350 718,290 M462,315 Q590,375 718,315"/>
<ellipse cx="590" cy="365" rx="130" ry="50"/>
<path d="M720,150 L880,250 L870,280 L725,195"/>
<path d="M735,185 L860,260 M740,200 L860,270"/>
<path d="M160,400 L160,600 M185,395 L190,600 M215,400 L220,590 M240,430 L240,600"/>
<circle cx="195" cy="620" r="30" fill="#fff"/><path d="M180,605 L210,635 M210,605 L180,635"/>
<path d="M295,425 C330,480 400,500 465,510 L420,560"/><path d="M295,425 L255,440"/>
<path d="M450,545 L660,665"/>
<path d="M690,690 L690,870 M720,680 L720,850 M760,720 L760,860 M795,740 L795,900"/>
<circle cx="760" cy="880" r="30" fill="#fff"/><path d="M745,865 L775,895 M775,865 L745,895"/>
<path d="M790,470 L800,560 C830,590 960,590 1000,560 L1015,470"/>
<ellipse cx="900" cy="465" rx="115" ry="60" fill="#fff"/>
<ellipse cx="900" cy="475" rx="80" ry="38" stroke-width="1.6"/>
<path d="M810,540 Q900,575 990,540" stroke-width="2"/>
<ellipse cx="1000" cy="655" rx="62" ry="75" transform="rotate(20 1000 655)" fill="#fff"/>
<ellipse cx="1000" cy="655" rx="48" ry="60" transform="rotate(20 1000 655)"/>
<path d="M960,690 L1040,620 M985,610 L1015,700" stroke-width="1.5"/>
<path d="M700,665 L810,605"/>
<path d="M1100,450 L1160,520" stroke="#666"/>
</g>
<g stroke-dasharray="12 4.5 3.5 4.5" stroke-linecap="butt"><path d="M976.5,1360 L976.5,1378"/></g>

<g transform="translate(360 670) scale(0.187406)">
<path d="M1044.0,500.0 L1043.6,511.2 L1042.5,522.4 L1040.6,533.5 L1038.0,544.6 L1034.6,555.6 L1030.5,566.5 L1025.7,577.4 L1020.2,588.1 L1013.9,598.6 L1006.9,609.1 L999.3,619.3 L990.9,629.4 L981.9,639.3 L972.2,648.9 L961.9,658.3 L951.0,667.5 L939.4,676.4 L927.3,685.1 L914.6,693.5 L901.4,701.5 L887.6,709.3 L873.3,716.7 L858.5,723.8 L843.3,730.6 L827.6,737.0 L811.5,743.0 L795.0,748.7 L778.1,753.9 L760.9,758.8 L743.4,763.3 L725.6,767.4 L707.5,771.1 L689.2,774.3 L670.7,777.1 L652.0,779.5 L633.2,781.5 L614.2,783.0 L595.2,784.1 L576.1,784.8 L557.0,785.0 L537.9,784.8 L518.8,784.1 L499.8,783.0 L480.8,781.5 L462.0,779.5 L443.3,777.1 L424.8,774.3 L406.5,771.1 L388.4,767.4 L370.6,763.3 L353.1,758.8 L335.9,753.9 L319.0,748.7 L302.5,743.0 L286.4,737.0 L270.7,730.6 L255.5,723.8 L240.7,716.7 L226.4,709.3 L212.6,701.5 L199.4,693.5 L186.7,685.1 L174.6,676.4 L163.0,667.5 L152.1,658.3 L141.8,648.9 L132.1,639.3 L123.1,629.4 L114.7,619.3 L107.1,609.1 L100.1,598.6 L93.8,588.1 L88.3,577.4 L83.5,566.5 L79.4,555.6 L76.0,544.6 L73.4,533.5 L71.5,522.4 L70.4,511.2 L70.0,500.0 L70.4,488.8 L71.5,477.6 L73.4,466.5 L76.0,455.4 L79.4,444.4 L83.5,433.5 L88.3,422.6 L93.8,411.9 L100.1,401.4 L107.1,390.9 L114.7,380.7 L123.1,370.6 L132.1,360.7 L141.8,351.1 L152.1,341.7 L163.0,332.5 L174.6,323.6 L186.7,314.9 L199.4,306.5 L212.6,298.5 L226.4,290.7 L240.7,283.3 L255.5,276.2 L270.7,269.4 L286.4,263.0 L302.5,257.0 L319.0,251.3 L335.9,246.1 L353.1,241.2 L370.6,236.7 L388.4,232.6 L406.5,228.9 L424.8,225.7 L443.3,222.9 L462.0,220.5 L480.8,218.5 L499.8,217.0 L518.8,215.9 L537.9,215.2 L557.0,215.0 L576.1,215.2 L595.2,215.9 L614.2,217.0 L633.2,218.5 L652.0,220.5 L670.7,222.9 L689.2,225.7 L707.5,228.9 L725.6,232.6 L743.4,236.7 L760.9,241.2 L778.1,246.1 L795.0,251.3 L811.5,257.0 L827.6,263.0 L843.3,269.4 L858.5,276.2 L873.3,283.3 L887.6,290.7 L901.4,298.5 L914.6,306.5 L927.3,314.9 L939.4,323.6 L951.0,332.5 L961.9,341.7 L972.2,351.1 L981.9,360.7 L990.9,370.6 L999.3,380.7 L1006.9,390.9 L1013.9,401.4 L1020.2,411.9 L1025.7,422.6 L1030.5,433.5 L1034.6,444.4 L1038.0,455.4 L1040.6,466.5 L1042.5,477.6 L1043.6,488.8 L1044.0,500.0"/>
<path d="M1044.0,540.0 L1043.6,551.2 L1042.5,562.4 L1040.6,573.5 L1038.0,584.6 L1034.6,595.6 L1030.5,606.5 L1025.7,617.4 L1020.2,628.1 L1013.9,638.6 L1006.9,649.1 L999.3,659.3 L990.9,669.4 L981.9,679.3 L972.2,688.9 L961.9,698.3 L951.0,707.5 L939.4,716.4 L927.3,725.1 L914.6,733.5 L901.4,741.5 L887.6,749.3 L873.3,756.7 L858.5,763.8 L843.3,770.6 L827.6,777.0 L811.5,783.0 L795.0,788.7 L778.1,793.9 L760.9,798.8 L743.4,803.3 L725.6,807.4 L707.5,811.1 L689.2,814.3 L670.7,817.1 L652.0,819.5 L633.2,821.5 L614.2,823.0 L595.2,824.1 L576.1,824.8 L557.0,825.0 L537.9,824.8 L518.8,824.1 L499.8,823.0 L480.8,821.5 L462.0,819.5 L443.3,817.1 L424.8,814.3 L406.5,811.1 L388.4,807.4 L370.6,803.3 L353.1,798.8 L335.9,793.9 L319.0,788.7 L302.5,783.0 L286.4,777.0 L270.7,770.6 L255.5,763.8 L240.7,756.7 L226.4,749.3 L212.6,741.5 L199.4,733.5 L186.7,725.1 L174.6,716.4 L163.0,707.5 L152.1,698.3 L141.8,688.9 L132.1,679.3 L123.1,669.4 L114.7,659.3 L107.1,649.1 L100.1,638.6 L93.8,628.1 L88.3,617.4 L83.5,606.5 L79.4,595.6 L76.0,584.6 L73.4,573.5 L71.5,562.4 L70.4,551.2 L70.0,540.0"/>
<path d="M1044.0,580.0 L1043.6,591.2 L1042.5,602.4 L1040.6,613.5 L1038.0,624.6 L1034.6,635.6 L1030.5,646.5 L1025.7,657.4 L1020.2,668.1 L1013.9,678.6 L1006.9,689.1 L999.3,699.3 L990.9,709.4 L981.9,719.3 L972.2,728.9 L961.9,738.3 L951.0,747.5 L939.4,756.4 L927.3,765.1 L914.6,773.5 L901.4,781.5 L887.6,789.3 L873.3,796.7 L858.5,803.8 L843.3,810.6 L827.6,817.0 L811.5,823.0 L795.0,828.7 L778.1,833.9 L760.9,838.8 L743.4,843.3 L725.6,847.4 L707.5,851.1 L689.2,854.3 L670.7,857.1 L652.0,859.5 L633.2,861.5 L614.2,863.0 L595.2,864.1 L576.1,864.8 L557.0,865.0 L537.9,864.8 L518.8,864.1 L499.8,863.0 L480.8,861.5 L462.0,859.5 L443.3,857.1 L424.8,854.3 L406.5,851.1 L388.4,847.4 L370.6,843.3 L353.1,838.8 L335.9,833.9 L319.0,828.7 L302.5,823.0 L286.4,817.0 L270.7,810.6 L255.5,803.8 L240.7,796.7 L226.4,789.3 L212.6,781.5 L199.4,773.5 L186.7,765.1 L174.6,756.4 L163.0,747.5 L152.1,738.3 L141.8,728.9 L132.1,719.3 L123.1,709.4 L114.7,699.3 L107.1,689.1 L100.1,678.6 L93.8,668.1 L88.3,657.4 L83.5,646.5 L79.4,635.6 L76.0,624.6 L73.4,613.5 L71.5,602.4 L70.4,591.2 L70.0,580.0"/>
<path d="M1044.0,620.0 L1043.6,631.2 L1042.5,642.4 L1040.6,653.5 L1038.0,664.6 L1034.6,675.6 L1030.5,686.5 L1025.7,697.4 L1020.2,708.1 L1013.9,718.6 L1006.9,729.1 L999.3,739.3 L990.9,749.4 L981.9,759.3 L972.2,768.9 L961.9,778.3 L951.0,787.5 L939.4,796.4 L927.3,805.1 L914.6,813.5 L901.4,821.5 L887.6,829.3 L873.3,836.7 L858.5,843.8 L843.3,850.6 L827.6,857.0 L811.5,863.0 L795.0,868.7 L778.1,873.9 L760.9,878.8 L743.4,883.3 L725.6,887.4 L707.5,891.1 L689.2,894.3 L670.7,897.1 L652.0,899.5 L633.2,901.5 L614.2,903.0 L595.2,904.1 L576.1,904.8 L557.0,905.0 L537.9,904.8 L518.8,904.1 L499.8,903.0 L480.8,901.5 L462.0,899.5 L443.3,897.1 L424.8,894.3 L406.5,891.1 L388.4,887.4 L370.6,883.3 L353.1,878.8 L335.9,873.9 L319.0,868.7 L302.5,863.0 L286.4,857.0 L270.7,850.6 L255.5,843.8 L240.7,836.7 L226.4,829.3 L212.6,821.5 L199.4,813.5 L186.7,805.1 L174.6,796.4 L163.0,787.5 L152.1,778.3 L141.8,768.9 L132.1,759.3 L123.1,749.4 L114.7,739.3 L107.1,729.1 L100.1,718.6 L93.8,708.1 L88.3,697.4 L83.5,686.5 L79.4,675.6 L76.0,664.6 L73.4,653.5 L71.5,642.4 L70.4,631.2 L70.0,620.0"/>
<path d="M70,500 L70,620"/><path d="M1044,500 L1044,620"/>
<path d="M121.7,553.1 L119.3,544.5 L117.4,535.9 L116.1,527.3 L115.3,518.7 L115.0,510.0 L115.3,501.3 L116.1,492.7 L117.4,484.1 L119.3,475.5 L121.7,466.9 L124.7,458.4 L128.1,450.0 L132.1,441.6 L136.6,433.4 L141.7,425.2 L147.2,417.1 L153.2,409.1 L159.7,401.3 L166.7,393.6 L174.2,386.0 L182.2,378.6 L190.6,371.3 L199.4,364.2 L208.7,357.3 L218.4,350.6 L228.5,344.1 L239.1,337.7 L250.0,331.6 L261.2,325.7 L272.9,320.0 L284.9,314.6 L297.2,309.4 L309.8,304.4 L322.8,299.7 L336.0,295.2 L349.5,291.0 L363.2,287.1 L377.2,283.4 L391.4,280.1 L405.8,277.0 L420.4,274.1 L435.2,271.6 L450.1,269.4 L465.1,267.4 L480.2,265.8 L495.5,264.4 L510.8,263.4 L526.2,262.6 L541.6,262.2 L557.0,262.0 L572.4,262.2 L587.8,262.6 L603.2,263.4 L618.5,264.4 L633.8,265.8 L648.9,267.4 L663.9,269.4 L678.8,271.6 L693.6,274.1 L708.2,277.0 L722.6,280.1 L736.8,283.4 L750.8,287.1 L764.5,291.0 L778.0,295.2 L791.2,299.7 L804.2,304.4 L816.8,309.4 L829.1,314.6 L841.1,320.0 L852.8,325.7 L864.0,331.6 L874.9,337.7 L885.5,344.1 L895.6,350.6 L905.3,357.3 L914.6,364.2 L923.4,371.3 L931.8,378.6 L939.8,386.0 L947.3,393.6 L954.3,401.3 L960.8,409.1 L966.8,417.1 L972.3,425.2 L977.4,433.4 L981.9,441.6 L985.9,450.0 L989.3,458.4 L992.3,466.9 L994.7,475.5 L996.6,484.1 L997.9,492.7 L998.7,501.3 L999.0,510.0 L998.7,518.7 L997.9,527.3 L996.6,535.9 L994.7,544.5 L992.3,553.1"/>
<path d="M128.6,569.1 L126.2,561.3 L124.4,553.5 L123.1,545.7 L122.3,537.9 L122.0,530.0 L122.3,522.1 L123.1,514.3 L124.4,506.5 L126.2,498.7 L128.6,490.9 L131.5,483.2 L134.9,475.6 L138.9,468.0 L143.3,460.5 L148.2,453.0 L153.7,445.7 L159.6,438.5 L166.0,431.4 L172.9,424.4 L180.3,417.5 L188.1,410.8 L196.4,404.2 L205.1,397.7 L214.2,391.5 L223.8,385.4 L233.7,379.4 L244.1,373.7 L254.8,368.1 L265.9,362.8 L277.4,357.6 L289.2,352.7 L301.3,348.0 L313.8,343.5 L326.5,339.2 L339.5,335.1 L352.8,331.3 L366.3,327.8 L380.1,324.5 L394.0,321.4 L408.2,318.6 L422.6,316.0 L437.1,313.7 L451.8,311.7 L466.6,309.9 L481.5,308.4 L496.5,307.2 L511.5,306.2 L526.7,305.5 L541.8,305.1 L557.0,305.0 L572.2,305.1 L587.3,305.5 L602.5,306.2 L617.5,307.2 L632.5,308.4 L647.4,309.9 L662.2,311.7 L676.9,313.7 L691.4,316.0 L705.8,318.6 L720.0,321.4 L733.9,324.5 L747.7,327.8 L761.2,331.3 L774.5,335.1 L787.5,339.2 L800.2,343.5 L812.7,348.0 L824.8,352.7 L836.6,357.6 L848.1,362.8 L859.2,368.1 L869.9,373.7 L880.3,379.4 L890.2,385.4 L899.8,391.5 L908.9,397.7 L917.6,404.2 L925.9,410.8 L933.7,417.5 L941.1,424.4 L948.0,431.4 L954.4,438.5 L960.3,445.7 L965.8,453.0 L970.7,460.5 L975.1,468.0 L979.1,475.6 L982.5,483.2 L985.4,490.9 L987.8,498.7 L989.6,506.5 L990.9,514.3 L991.7,522.1 L992.0,530.0 L991.7,537.9 L990.9,545.7 L989.6,553.5 L987.8,561.3 L985.4,569.1"/>
<path d="M135.5,585.6 L133.2,578.5 L131.3,571.4 L130.0,564.3 L129.3,557.2 L129.0,550.0 L129.3,542.8 L130.0,535.7 L131.3,528.6 L133.2,521.5 L135.5,514.4 L138.4,507.4 L141.7,500.4 L145.6,493.5 L149.9,486.7 L154.8,479.9 L160.2,473.2 L166.0,466.6 L172.3,460.1 L179.1,453.8 L186.3,447.5 L194.0,441.4 L202.2,435.4 L210.7,429.5 L219.7,423.8 L229.1,418.2 L238.9,412.8 L249.1,407.6 L259.7,402.5 L270.6,397.7 L281.9,393.0 L293.5,388.5 L305.4,384.2 L317.7,380.0 L330.2,376.2 L343.0,372.5 L356.1,369.0 L369.4,365.7 L382.9,362.7 L396.7,359.9 L410.6,357.4 L424.7,355.0 L439.0,352.9 L453.5,351.1 L468.0,349.5 L482.7,348.1 L497.4,347.0 L512.3,346.1 L527.1,345.5 L542.1,345.1 L557.0,345.0 L571.9,345.1 L586.9,345.5 L601.7,346.1 L616.6,347.0 L631.3,348.1 L646.0,349.5 L660.5,351.1 L675.0,352.9 L689.3,355.0 L703.4,357.4 L717.3,359.9 L731.1,362.7 L744.6,365.7 L757.9,369.0 L771.0,372.5 L783.8,376.2 L796.3,380.0 L808.6,384.2 L820.5,388.5 L832.1,393.0 L843.4,397.7 L854.3,402.5 L864.9,407.6 L875.1,412.8 L884.9,418.2 L894.3,423.8 L903.3,429.5 L911.8,435.4 L920.0,441.4 L927.7,447.5 L934.9,453.8 L941.7,460.1 L948.0,466.6 L953.8,473.2 L959.2,479.9 L964.1,486.7 L968.4,493.5 L972.3,500.4 L975.6,507.4 L978.5,514.4 L980.8,521.5 L982.7,528.6 L984.0,535.7 L984.7,542.8 L985.0,550.0 L984.7,557.2 L984.0,564.3 L982.7,571.4 L980.8,578.5 L978.5,585.6"/>
<path d="M977.0,567.0 L976.7,574.0 L975.7,581.0 L974.1,588.0 L971.8,595.0 L968.9,601.9 L965.4,608.8 L961.2,615.6 L956.4,622.3 L951.0,629.0 L945.0,635.5 L938.4,641.9 L931.2,648.3 L923.4,654.5 L915.1,660.5 L906.2,666.4 L896.8,672.2 L886.8,677.8 L876.4,683.3 L865.4,688.5 L854.0,693.6 L842.1,698.4 L829.8,703.1 L817.0,707.6 L803.9,711.8 L790.3,715.8 L776.4,719.6 L762.2,723.2 L747.7,726.5 L732.8,729.6 L717.7,732.4 L702.4,734.9 L686.8,737.2 L671.0,739.3 L655.0,741.1 L638.9,742.6 L622.7,743.8 L606.4,744.8 L590.0,745.4 L573.5,745.9 L557.0,746.0 L540.5,745.9 L524.0,745.4 L507.6,744.8 L491.3,743.8 L475.1,742.6 L459.0,741.1 L443.0,739.3 L427.2,737.2 L411.6,734.9 L396.3,732.4 L381.2,729.6 L366.3,726.5 L351.8,723.2 L337.6,719.6 L323.7,715.8 L310.1,711.8 L297.0,707.6 L284.2,703.1 L271.9,698.4 L260.0,693.6 L248.6,688.5 L237.6,683.3 L227.2,677.8 L217.2,672.2 L207.8,666.4 L198.9,660.5 L190.6,654.5 L182.8,648.3 L175.6,641.9 L169.0,635.5 L163.0,629.0 L157.6,622.3 L152.8,615.6 L148.6,608.8 L145.1,601.9 L142.2,595.0 L139.9,588.0 L138.3,581.0 L137.3,574.0 L137.0,567.0 L137.3,560.0 L138.3,553.0 L139.9,546.0 L142.2,539.0 L145.1,532.1 L148.6,525.2 L152.8,518.4 L157.6,511.7 L163.0,505.0 L169.0,498.5 L175.6,492.1 L182.8,485.7 L190.6,479.5 L198.9,473.5 L207.8,467.6 L217.2,461.8 L227.2,456.2 L237.6,450.7 L248.6,445.5 L260.0,440.4 L271.9,435.6 L284.2,430.9 L297.0,426.4 L310.1,422.2 L323.7,418.2 L337.6,414.4 L351.8,410.8 L366.3,407.5 L381.2,404.4 L396.3,401.6 L411.6,399.1 L427.2,396.8 L443.0,394.7 L459.0,392.9 L475.1,391.4 L491.3,390.2 L507.6,389.2 L524.0,388.6 L540.5,388.1 L557.0,388.0 L573.5,388.1 L590.0,388.6 L606.4,389.2 L622.7,390.2 L638.9,391.4 L655.0,392.9 L671.0,394.7 L686.8,396.8 L702.4,399.1 L717.7,401.6 L732.8,404.4 L747.7,407.5 L762.2,410.8 L776.4,414.4 L790.3,418.2 L803.9,422.2 L817.0,426.4 L829.8,430.9 L842.1,435.6 L854.0,440.4 L865.4,445.5 L876.4,450.7 L886.8,456.2 L896.8,461.8 L906.2,467.6 L915.1,473.5 L923.4,479.5 L931.2,485.7 L938.4,492.1 L945.0,498.5 L951.0,505.0 L956.4,511.7 L961.2,518.4 L965.4,525.2 L968.9,532.1 L971.8,539.0 L974.1,546.0 L975.7,553.0 L976.7,560.0 L977.0,567.0"/>
<path d="M1040,712 C1100,695 1180,690 1220,720 C1260,760 1300,850 1315,900 C1325,935 1310,955 1280,950"/>
<path d="M1040,770 C1100,750 1150,745 1175,760 C1200,790 1240,870 1258,915 C1150,895 1030,920 960,950"/>
</g>
<g transform="translate(420 665) scale(0.059970)">
<path d="M940,745 C960,600 900,420 780,360 C680,300 560,300 480,330 C400,370 370,450 380,560 C390,620 420,650 450,660" fill="#fff"/>
<path d="M520,450 C470,460 430,520 440,620"/>
<path d="M500,750 C480,680 530,580 600,580 C680,590 690,700 680,745"/>
<path d="M290,770 C290,700 330,660 400,655 L500,750"/>
<path d="M600,310 L700,215 Q740,195 790,210 L680,330"/>
<path d="M790,250 L900,245 L1020,370 L900,480"/>
<path d="M820,220 L880,160 Q910,140 935,170 Q945,195 920,225"/>
<path d="M1010,355 L1110,240 Q1140,225 1150,260 L1040,390"/>
<path d="M915,540 L1045,420 M925,590 L1055,460 M945,630 L1060,480 M1020,370 L1060,460 L950,640"/>
</g>
<g transform="translate(330 820) scale(0.179920)">
<path d="M85,620 L155,590 L155,540 L315,450 L285,420 L285,215 L340,190 L650,15 L965,195 L1015,225 L1055,300 L1140,265 L1140,390 L1220,430 L1240,480 L1240,530 L480,965 L60,720 L60,670 Z" fill="#fff" stroke="none"/>
<path d="M60,670 L60,720 L480,965 L1240,530 L1240,480"/>
<path d="M60,670 L480,905 L1240,480"/>
<path d="M85,620 L480,850 L1220,430"/><path d="M85,620 L60,670"/><path d="M480,850 L480,905"/><path d="M1220,430 L1240,480"/>
<path d="M85,620 L155,590"/><path d="M1140,390 L1220,430"/><path d="M1055,520 L1140,470"/>
<path d="M155,540 L315,450 L565,600 L405,690 Z" fill="#fff"/><path d="M155,540 L155,660"/><path d="M405,690 L405,805"/><path d="M565,600 L565,715"/>
<path d="M285,215 L650,430 L1015,225"/><path d="M650,430 L650,750"/><path d="M1015,225 L1055,400 L1055,520"/><path d="M285,215 L265,350"/><path d="M255,425 L255,480"/>
<path d="M285,215 L340,190"/><path d="M965,195 L1015,225"/>
<path d="M1035,205 L1140,265 L1140,390 M1055,430 L1140,390"/>
<path d="M1060,205 C1150,150 1250,120 1334,120"/><path d="M1110,240 C1180,200 1260,180 1334,175"/>
<path d="M410,150 L640,15 L880,150 L650,290 Z" fill="#fff"/>
<path d="M410,150 L410,235 L650,375 L880,235 L880,150"/><path d="M650,290 L650,375"/>
<path d="M337,150 L337,240 Q375,265 413,240 L413,150" fill="#fff"/><ellipse cx="375" cy="150" rx="38" ry="22" fill="#fff"/>
<path d="M887,150 L887,240 Q925,265 963,240 L963,150" fill="#fff"/><ellipse cx="925" cy="150" rx="38" ry="22" fill="#fff"/>
<path d="M612,305 L612,395 Q650,420 688,395 L688,305" fill="#fff"/><ellipse cx="650" cy="305" rx="38" ry="22" fill="#fff"/>
<ellipse cx="650" cy="5" rx="30" ry="16" fill="#fff"/>
<ellipse cx="290.0" cy="715.0" rx="30" ry="40" transform="rotate(-30 290.0 715.0)" fill="#fff"/>
<ellipse cx="277.0" cy="722.4" rx="30" ry="40" transform="rotate(-30 277.0 722.4)" fill="#fff"/>
<ellipse cx="264.0" cy="729.8" rx="30" ry="40" transform="rotate(-30 264.0 729.8)" fill="#fff"/>
<ellipse cx="251.0" cy="737.2" rx="30" ry="40" transform="rotate(-30 251.0 737.2)" fill="#fff"/>
<ellipse cx="238.0" cy="744.6" rx="30" ry="40" transform="rotate(-30 238.0 744.6)" fill="#fff"/>
<ellipse cx="222" cy="754" rx="33" ry="43" transform="rotate(-30 222 754)" fill="#fff"/>
<ellipse cx="222" cy="754" rx="24" ry="33" transform="rotate(-30 222 754)"/>
</g>
<g transform="translate(230 1270) scale(0.124805)">
<path d="M520,100 L420,145 C320,200 260,300 220,450 C195,560 185,700 180,1000 L180,1100 C185,1200 250,1270 420,1290 L860,1530 Q880,1540 900,1530 L1000,1460 L1040,1440 L1050,1420 L1130,1240 C1120,1000 1110,800 1080,580 L1100,500 Q1110,470 1080,430 L710,190 L600,130 L520,100 Z" fill="#fff" stroke="none"/>
<path d="M520,100 L420,145 C320,200 260,300 220,450 C195,560 185,700 180,1000"/>
<path d="M520,100 L600,130"/>
<path d="M710,190 L1080,430 Q1110,470 1100,500"/>
<path d="M1080,580 C1110,800 1120,1000 1130,1240"/>
<path d="M420,1290 L860,1530 Q880,1540 900,1530 L1000,1460 L1040,1440 L1050,1420"/>
<path d="M645,600 L800,685"/><path d="M840,685 L1060,560"/>
<path d="M830,740 L830,1065 L860,1085" stroke="#555"/>
<path d="M785,1070 C810,1080 830,1130 830,1200 C830,1260 810,1300 785,1310 C780,1250 780,1140 785,1070"/>
<path d="M830,530 C900,500 960,480 1000,460 M810,570 C900,540 980,520 1000,500 M795,600 C880,580 960,560 1000,540 M790,640 C870,620 960,600 1050,570"/>
<path d="M1000,455 L1000,580"/>
<path d="M1100,1250 Q1150,1270 1140,1320 L1050,1420"/>
<path d="M830,1365 L1060,1280 M830,1400 L1060,1320 M830,1440 L1060,1360 M830,1470 L1050,1400"/>
<path d="M1060,1280 L1060,1420"/>
<path d="M195,730 L240,760 L235,980 L190,1000"/><path d="M215,745 L212,985"/>
<path d="M270,330 L290,270 M285,340 L305,265 M300,330 L318,260 M330,235 L345,205"/>
<ellipse cx="510" cy="1030" rx="115" ry="160" transform="rotate(-22 510 1030)" fill="#fff"/>
<path d="M230,1000 L420,890 M400,1300 L560,1200"/>

<g stroke-width="1"><path d="M234.8,1030.4 L243.3,1026.3 L252.2,1023.1 L261.3,1020.8 L270.7,1019.4 L280.3,1018.8 L290.0,1019.2 L299.8,1020.5 L309.6,1022.6 L319.3,1025.7 L328.9,1029.6 L338.4,1034.3 L347.6,1039.8 L356.5,1046.1 L365.0,1053.2 L373.2,1060.9 L380.9,1069.3 L388.1,1078.2 L394.8,1087.7 L400.9,1097.7 L406.4,1108.1 L411.2,1118.8 L415.4,1129.9 L418.8,1141.1 L421.5,1152.5 L423.5,1163.9 L424.7,1175.4 L425.1,1186.8 L424.8,1198.1 L423.7,1209.2 L421.8,1220.0 L419.2,1230.4 L415.9,1240.5 L411.8,1250.1 L407.1,1259.1 L401.7,1267.6 L395.7,1275.5 L389.0,1282.6 L381.9,1289.1 L374.2,1294.8 L366.1,1299.6"/><path d="M250.2,1020.4 L258.7,1016.3 L267.6,1013.1 L276.8,1010.8 L286.2,1009.4 L295.8,1008.8 L305.5,1009.2 L315.3,1010.5 L325.0,1012.6 L334.8,1015.7 L344.4,1019.6 L353.8,1024.3 L363.0,1029.8 L371.9,1036.1 L380.5,1043.2 L388.7,1050.9 L396.4,1059.3 L403.6,1068.2 L410.3,1077.7 L416.4,1087.7 L421.9,1098.1 L426.7,1108.8 L430.8,1119.9 L434.3,1131.1 L437.0,1142.5 L438.9,1153.9 L440.1,1165.4 L440.6,1176.8 L440.2,1188.1 L439.1,1199.2 L437.3,1210.0 L434.7,1220.4 L431.3,1230.5 L427.3,1240.1 L422.5,1249.1 L417.1,1257.6 L411.1,1265.5 L404.5,1272.6 L397.3,1279.1 L389.7,1284.8 L381.6,1289.6"/><path d="M265.7,1010.4 L274.2,1006.3 L283.1,1003.1 L292.2,1000.8 L301.6,999.4 L311.2,998.8 L320.9,999.2 L330.7,1000.5 L340.5,1002.6 L350.2,1005.7 L359.8,1009.6 L369.3,1014.3 L378.5,1019.8 L387.4,1026.1 L395.9,1033.2 L404.1,1040.9 L411.8,1049.3 L419.0,1058.2 L425.7,1067.7 L431.8,1077.7 L437.3,1088.1 L442.1,1098.8 L446.3,1109.9 L449.7,1121.1 L452.4,1132.5 L454.4,1143.9 L455.6,1155.4 L456.0,1166.8 L455.7,1178.1 L454.6,1189.2 L452.7,1200.0 L450.1,1210.4 L446.8,1220.5 L442.7,1230.1 L438.0,1239.1 L432.6,1247.6 L426.6,1255.5 L420.0,1262.6 L412.8,1269.1 L405.1,1274.8 L397.0,1279.6"/><path d="M281.1,1000.4 L289.7,996.3 L298.5,993.1 L307.7,990.8 L317.1,989.4 L326.7,988.8 L336.4,989.2 L346.2,990.5 L356.0,992.6 L365.7,995.7 L375.3,999.6 L384.7,1004.3 L393.9,1009.8 L402.8,1016.1 L411.4,1023.2 L419.6,1030.9 L427.3,1039.3 L434.5,1048.2 L441.2,1057.7 L447.3,1067.7 L452.8,1078.1 L457.6,1088.8 L461.7,1099.9 L465.2,1111.1 L467.9,1122.5 L469.8,1133.9 L471.0,1145.4 L471.5,1156.8 L471.1,1168.1 L470.0,1179.2 L468.2,1190.0 L465.6,1200.4 L462.2,1210.5 L458.2,1220.1 L453.4,1229.1 L448.0,1237.6 L442.0,1245.5 L435.4,1252.6 L428.3,1259.1 L420.6,1264.8 L412.5,1269.6"/><path d="M296.6,990.4 L305.1,986.3 L314.0,983.1 L323.1,980.8 L332.6,979.4 L342.1,978.8 L351.9,979.2 L361.6,980.5 L371.4,982.6 L381.1,985.7 L390.7,989.6 L400.2,994.3 L409.4,999.8 L418.3,1006.1 L426.9,1013.2 L435.0,1020.9 L442.7,1029.3 L450.0,1038.2 L456.6,1047.7 L462.7,1057.7 L468.2,1068.1 L473.0,1078.8 L477.2,1089.9 L480.6,1101.1 L483.3,1112.5 L485.3,1123.9 L486.5,1135.4 L486.9,1146.8 L486.6,1158.1 L485.5,1169.2 L483.6,1180.0 L481.0,1190.4 L477.7,1200.5 L473.6,1210.1 L468.9,1219.1 L463.5,1227.6 L457.5,1235.5 L450.9,1242.6 L443.7,1249.1 L436.1,1254.8 L427.9,1259.6"/><path d="M312.1,980.4 L320.6,976.3 L329.4,973.1 L338.6,970.8 L348.0,969.4 L357.6,968.8 L367.3,969.2 L377.1,970.5 L386.9,972.6 L396.6,975.7 L406.2,979.6 L415.6,984.3 L424.8,989.8 L433.7,996.1 L442.3,1003.2 L450.5,1010.9 L458.2,1019.3 L465.4,1028.2 L472.1,1037.7 L478.2,1047.7 L483.7,1058.1 L488.5,1068.8 L492.6,1079.9 L496.1,1091.1 L498.8,1102.5 L500.7,1113.9 L501.9,1125.4 L502.4,1136.8 L502.0,1148.1 L500.9,1159.2 L499.1,1170.0 L496.5,1180.4 L493.1,1190.5 L489.1,1200.1 L484.3,1209.1 L478.9,1217.6 L472.9,1225.5 L466.3,1232.6 L459.2,1239.1 L451.5,1244.8 L443.4,1249.6"/><path d="M327.5,970.4 L336.0,966.3 L344.9,963.1 L354.1,960.8 L363.5,959.4 L373.0,958.8 L382.8,959.2 L392.5,960.5 L402.3,962.6 L412.0,965.7 L421.7,969.6 L431.1,974.3 L440.3,979.8 L449.2,986.1 L457.8,993.2 L465.9,1000.9 L473.6,1009.3 L480.9,1018.2 L487.5,1027.7 L493.6,1037.7 L499.1,1048.1 L503.9,1058.8 L508.1,1069.9 L511.5,1081.1 L514.2,1092.5 L516.2,1103.9 L517.4,1115.4 L517.8,1126.8 L517.5,1138.1 L516.4,1149.2 L514.5,1160.0 L511.9,1170.4 L508.6,1180.5 L504.5,1190.1 L499.8,1199.1 L494.4,1207.6 L488.4,1215.5 L481.8,1222.6 L474.6,1229.1 L467.0,1234.8 L458.9,1239.6"/><path d="M343.0,960.4 L351.5,956.3 L360.3,953.1 L369.5,950.8 L378.9,949.4 L388.5,948.8 L398.2,949.2 L408.0,950.5 L417.8,952.6 L427.5,955.7 L437.1,959.6 L446.5,964.3 L455.7,969.8 L464.7,976.1 L473.2,983.2 L481.4,990.9 L489.1,999.3 L496.3,1008.2 L503.0,1017.7 L509.1,1027.7 L514.6,1038.1 L519.4,1048.8 L523.5,1059.9 L527.0,1071.1 L529.7,1082.5 L531.6,1093.9 L532.8,1105.4 L533.3,1116.8 L532.9,1128.1 L531.8,1139.2 L530.0,1150.0 L527.4,1160.4 L524.0,1170.5 L520.0,1180.1 L515.2,1189.1 L509.9,1197.6 L503.8,1205.5 L497.2,1212.6 L490.1,1219.1 L482.4,1224.8 L474.3,1229.6"/><path d="M358.4,950.4 L366.9,946.3 L375.8,943.1 L385.0,940.8 L394.4,939.4 L404.0,938.8 L413.7,939.2 L423.4,940.5 L433.2,942.6 L443.0,945.7 L452.6,949.6 L462.0,954.3 L471.2,959.8 L480.1,966.1 L488.7,973.2 L496.8,980.9 L504.6,989.3 L511.8,998.2 L518.5,1007.7 L524.6,1017.7 L530.0,1028.1 L534.9,1038.8 L539.0,1049.9 L542.4,1061.1 L545.1,1072.5 L547.1,1083.9 L548.3,1095.4 L548.7,1106.8 L548.4,1118.1 L547.3,1129.2 L545.4,1140.0 L542.8,1150.4 L539.5,1160.5 L535.4,1170.1 L530.7,1179.1 L525.3,1187.6 L519.3,1195.5 L512.7,1202.6 L505.5,1209.1 L497.9,1214.8 L489.8,1219.6"/><path d="M373.9,940.4 L382.4,936.3 L391.3,933.1 L400.4,930.8 L409.8,929.4 L419.4,928.8 L429.1,929.2 L438.9,930.5 L448.7,932.6 L458.4,935.7 L468.0,939.6 L477.5,944.3 L486.7,949.8 L495.6,956.1 L504.1,963.2 L512.3,970.9 L520.0,979.3 L527.2,988.2 L533.9,997.7 L540.0,1007.7 L545.5,1018.1 L550.3,1028.8 L554.5,1039.9 L557.9,1051.1 L560.6,1062.5 L562.6,1073.9 L563.8,1085.4 L564.2,1096.8 L563.9,1108.1 L562.8,1119.2 L560.9,1130.0 L558.3,1140.4 L554.9,1150.5 L550.9,1160.1 L546.2,1169.1 L540.8,1177.6 L534.7,1185.5 L528.1,1192.6 L521.0,1199.1 L513.3,1204.8 L505.2,1209.6"/></g>

<ellipse cx="285" cy="1170" rx="120" ry="150" transform="rotate(-22 285 1170)" fill="#fff"/>
<ellipse cx="290" cy="1175" rx="103" ry="132" transform="rotate(-22 290 1175)"/>

<path d="M420,900 C500,920 560,1000 565,1100 C570,1170 555,1200 520,1220" />
<path d="M480,390 C400,420 330,470 330,560 C330,650 400,720 480,720 C560,720 640,650 640,560 C640,500 620,460 600,440"/>
<path d="M385,480 C370,540 390,660 470,690 C520,700 540,650 520,560 C500,480 440,450 385,480 Z"/>
<path d="M400,500 C390,560 410,650 460,670 M415,510 C405,570 425,640 470,660 M425,525 C420,580 435,630 475,650" stroke-width="0.8"/>
<path d="M490,430 C540,450 590,520 610,620 M470,440 L480,460 M500,440 L520,470 M520,460 L540,500 M540,490 L570,530 M560,530 L590,580 M575,590 L600,640" stroke-width="1.2"/>
<path d="M480,330 L485,385 Q520,440 600,450 L640,450 C650,420 700,380 705,330"/>
<ellipse cx="595" cy="325" rx="122" ry="68" fill="#fff"/>
<ellipse cx="595" cy="328" rx="100" ry="52"/>
<path d="M510,300 L680,360 M510,360 L680,300 M520,310 L670,350 M520,350 L670,310" stroke-width="1"/>
</g>

<g stroke-dasharray="12 4.5 3.5 4.5" stroke-linecap="butt">
<path d="M990.5,330 L990.5,387"/>
<path d="M990.5,544 L990.5,650"/>
</g>

</svg></body></html>
